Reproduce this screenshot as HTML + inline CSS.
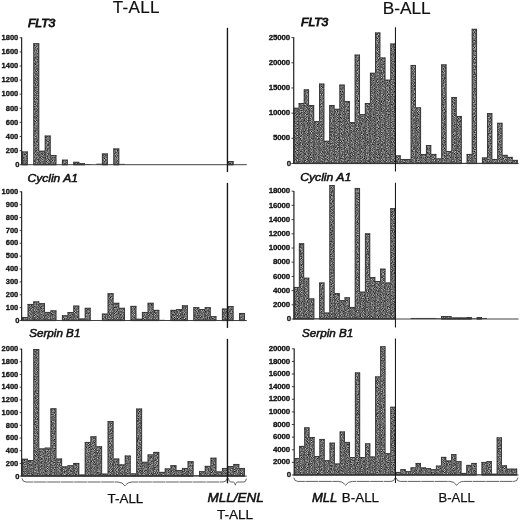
<!DOCTYPE html>
<html><head><meta charset="utf-8"><title>Figure</title>
<style>
html,body{margin:0;padding:0;background:#fff;}
body{width:520px;height:520px;overflow:hidden;font-family:"Liberation Sans",sans-serif;}
svg text{font-family:"Liberation Sans",sans-serif;fill:#111;}
.tk{font-size:7.5px;font-weight:bold;stroke:#111;stroke-width:0.3px;}
.ti{font-size:10.6px;font-style:italic;stroke:#111;stroke-width:0.5px;}
.gl{font-size:13px;stroke:#111;stroke-width:0.25px;}
.bi{font-style:italic;stroke-width:0.55px;}
.ct{font-size:17px;letter-spacing:0.3px;stroke:#111;stroke-width:0.2px;}
.ct2{font-size:17.3px;stroke:#111;stroke-width:0.2px;}
</style></head><body>
<svg width="520" height="520" viewBox="0 0 520 520" style="display:block;will-change:transform">
<defs><filter id="nz" x="0" y="0" width="520" height="520" filterUnits="userSpaceOnUse" color-interpolation-filters="sRGB">
<feTurbulence type="fractalNoise" baseFrequency="2.3" numOctaves="1" seed="5" result="t"/>
<feColorMatrix in="t" type="matrix" values="0.4 0 0 0 0.225  0.4 0 0 0 0.225  0.4 0 0 0 0.225  0 0 0 0 1" result="g"/>
<feConvolveMatrix in="g" order="3" kernelMatrix="0 -0.5 0 -0.5 3 -0.5 0 -0.5 0" divisor="1" bias="0" edgeMode="duplicate" preserveAlpha="true" result="h"/>
<feComposite in="h" in2="SourceGraphic" operator="in"/>
</filter></defs>
<rect width="520" height="520" fill="#fff"/>
<g filter="url(#nz)">
<rect x="22.00" y="151.59" width="5.71" height="13.11"/>
<rect x="33.43" y="43.30" width="5.71" height="121.40"/>
<rect x="39.14" y="150.81" width="5.71" height="13.89"/>
<rect x="44.86" y="135.65" width="5.71" height="29.05"/>
<rect x="50.58" y="155.04" width="5.71" height="9.66"/>
<rect x="62.00" y="159.76" width="5.71" height="4.93"/>
<rect x="73.44" y="161.88" width="5.71" height="2.82"/>
<rect x="79.15" y="163.29" width="5.71" height="1.41"/>
<rect x="102.01" y="153.56" width="5.71" height="11.14"/>
<rect x="113.44" y="148.56" width="5.71" height="16.14"/>
<rect x="227.74" y="161.17" width="5.71" height="3.52"/>
<rect x="22.00" y="317.03" width="5.71" height="3.47"/>
<rect x="27.71" y="304.03" width="5.71" height="16.47"/>
<rect x="33.43" y="301.45" width="5.71" height="19.05"/>
<rect x="39.14" y="303.25" width="5.71" height="17.25"/>
<rect x="44.86" y="312.01" width="5.71" height="8.49"/>
<rect x="50.58" y="310.46" width="5.71" height="10.04"/>
<rect x="62.00" y="315.35" width="5.71" height="5.15"/>
<rect x="67.72" y="312.13" width="5.71" height="8.37"/>
<rect x="73.44" y="305.70" width="5.71" height="14.80"/>
<rect x="79.15" y="318.57" width="5.71" height="1.93"/>
<rect x="84.86" y="307.89" width="5.71" height="12.61"/>
<rect x="102.01" y="313.68" width="5.71" height="6.82"/>
<rect x="107.72" y="293.34" width="5.71" height="27.16"/>
<rect x="113.44" y="302.87" width="5.71" height="17.63"/>
<rect x="119.16" y="307.89" width="5.71" height="12.61"/>
<rect x="130.58" y="305.96" width="5.71" height="14.54"/>
<rect x="136.30" y="318.83" width="5.71" height="1.67"/>
<rect x="142.01" y="312.01" width="5.71" height="8.49"/>
<rect x="147.73" y="302.87" width="5.71" height="17.63"/>
<rect x="153.44" y="309.95" width="5.71" height="10.55"/>
<rect x="170.59" y="309.95" width="5.71" height="10.55"/>
<rect x="176.31" y="309.17" width="5.71" height="11.33"/>
<rect x="182.02" y="305.44" width="5.71" height="15.06"/>
<rect x="193.45" y="307.24" width="5.71" height="13.26"/>
<rect x="199.16" y="309.17" width="5.71" height="11.33"/>
<rect x="204.88" y="307.24" width="5.71" height="13.26"/>
<rect x="210.59" y="316.25" width="5.71" height="4.25"/>
<rect x="222.03" y="308.66" width="5.71" height="11.84"/>
<rect x="227.74" y="306.21" width="5.71" height="14.29"/>
<rect x="239.17" y="313.04" width="5.71" height="7.46"/>
<rect x="22.00" y="458.83" width="5.71" height="17.27"/>
<rect x="27.71" y="460.10" width="5.71" height="16.00"/>
<rect x="33.43" y="349.10" width="5.71" height="127.00"/>
<rect x="39.14" y="448.48" width="5.71" height="27.62"/>
<rect x="44.86" y="447.72" width="5.71" height="28.38"/>
<rect x="50.58" y="408.41" width="5.71" height="67.69"/>
<rect x="56.29" y="458.64" width="5.71" height="17.46"/>
<rect x="62.00" y="466.45" width="5.71" height="9.65"/>
<rect x="67.72" y="465.31" width="5.71" height="10.79"/>
<rect x="73.44" y="463.02" width="5.71" height="13.08"/>
<rect x="79.15" y="474.58" width="5.71" height="1.52"/>
<rect x="84.86" y="442.00" width="5.71" height="34.10"/>
<rect x="90.58" y="436.41" width="5.71" height="39.69"/>
<rect x="96.30" y="446.38" width="5.71" height="29.72"/>
<rect x="102.01" y="473.69" width="5.71" height="2.41"/>
<rect x="107.72" y="421.17" width="5.71" height="54.93"/>
<rect x="113.44" y="458.64" width="5.71" height="17.46"/>
<rect x="119.16" y="464.48" width="5.71" height="11.62"/>
<rect x="124.87" y="455.65" width="5.71" height="20.45"/>
<rect x="130.58" y="473.43" width="5.71" height="2.67"/>
<rect x="136.30" y="408.66" width="5.71" height="67.44"/>
<rect x="142.01" y="461.88" width="5.71" height="14.22"/>
<rect x="147.73" y="454.51" width="5.71" height="21.59"/>
<rect x="153.44" y="451.97" width="5.71" height="24.13"/>
<rect x="159.16" y="471.97" width="5.71" height="4.13"/>
<rect x="164.88" y="468.48" width="5.71" height="7.62"/>
<rect x="170.59" y="465.31" width="5.71" height="10.79"/>
<rect x="176.31" y="470.07" width="5.71" height="6.03"/>
<rect x="182.02" y="468.04" width="5.71" height="8.06"/>
<rect x="187.73" y="461.30" width="5.71" height="14.80"/>
<rect x="199.16" y="471.27" width="5.71" height="4.83"/>
<rect x="204.88" y="465.94" width="5.71" height="10.16"/>
<rect x="210.59" y="457.81" width="5.71" height="18.29"/>
<rect x="216.31" y="471.53" width="5.71" height="4.57"/>
<rect x="222.03" y="468.04" width="5.71" height="8.06"/>
<rect x="227.74" y="466.13" width="5.71" height="9.97"/>
<rect x="233.45" y="464.04" width="5.71" height="12.06"/>
<rect x="239.17" y="468.04" width="5.71" height="8.06"/>
<rect x="293.70" y="107.85" width="5.09" height="55.65"/>
<rect x="298.79" y="103.07" width="5.09" height="60.43"/>
<rect x="303.88" y="89.47" width="5.09" height="74.03"/>
<rect x="308.97" y="105.08" width="5.09" height="58.42"/>
<rect x="314.06" y="121.20" width="5.09" height="42.30"/>
<rect x="319.15" y="83.68" width="5.09" height="79.82"/>
<rect x="324.24" y="140.84" width="5.09" height="22.66"/>
<rect x="329.33" y="105.08" width="5.09" height="58.42"/>
<rect x="334.42" y="108.86" width="5.09" height="54.64"/>
<rect x="339.51" y="84.69" width="5.09" height="78.81"/>
<rect x="344.60" y="101.05" width="5.09" height="62.45"/>
<rect x="349.69" y="122.20" width="5.09" height="41.30"/>
<rect x="354.78" y="54.72" width="5.09" height="108.78"/>
<rect x="359.87" y="114.25" width="5.09" height="49.25"/>
<rect x="364.96" y="103.07" width="5.09" height="60.43"/>
<rect x="370.05" y="72.85" width="5.09" height="90.65"/>
<rect x="375.14" y="32.56" width="5.09" height="130.94"/>
<rect x="380.23" y="57.59" width="5.09" height="105.91"/>
<rect x="385.32" y="79.75" width="5.09" height="83.75"/>
<rect x="390.41" y="43.64" width="5.09" height="119.86"/>
<rect x="395.50" y="155.49" width="5.09" height="8.01"/>
<rect x="400.59" y="159.07" width="5.09" height="4.43"/>
<rect x="405.68" y="159.07" width="5.09" height="4.43"/>
<rect x="410.77" y="65.05" width="5.09" height="98.45"/>
<rect x="415.86" y="107.45" width="5.09" height="56.05"/>
<rect x="420.95" y="154.03" width="5.09" height="9.47"/>
<rect x="426.04" y="145.12" width="5.09" height="18.38"/>
<rect x="431.13" y="154.03" width="5.09" height="9.47"/>
<rect x="436.22" y="158.46" width="5.09" height="5.04"/>
<rect x="441.31" y="64.49" width="5.09" height="99.01"/>
<rect x="446.40" y="151.06" width="5.09" height="12.44"/>
<rect x="451.49" y="97.08" width="5.09" height="66.42"/>
<rect x="456.58" y="116.06" width="5.09" height="47.44"/>
<rect x="466.76" y="154.03" width="5.09" height="9.47"/>
<rect x="471.85" y="28.89" width="5.09" height="134.61"/>
<rect x="482.03" y="157.56" width="5.09" height="5.94"/>
<rect x="487.12" y="113.14" width="5.09" height="50.36"/>
<rect x="492.21" y="159.07" width="5.09" height="4.43"/>
<rect x="497.30" y="122.88" width="5.09" height="40.62"/>
<rect x="502.39" y="154.94" width="5.09" height="8.56"/>
<rect x="507.48" y="156.95" width="5.09" height="6.55"/>
<rect x="512.57" y="159.97" width="5.09" height="3.53"/>
<rect x="293.90" y="287.05" width="5.08" height="31.95"/>
<rect x="298.98" y="243.38" width="5.08" height="75.62"/>
<rect x="304.06" y="277.82" width="5.08" height="41.18"/>
<rect x="309.14" y="298.55" width="5.08" height="20.45"/>
<rect x="319.30" y="282.58" width="5.08" height="36.42"/>
<rect x="324.38" y="312.61" width="5.08" height="6.39"/>
<rect x="329.46" y="185.16" width="5.08" height="133.84"/>
<rect x="334.54" y="293.23" width="5.08" height="25.77"/>
<rect x="339.62" y="300.19" width="5.08" height="18.82"/>
<rect x="344.70" y="297.35" width="5.08" height="21.66"/>
<rect x="349.78" y="307.00" width="5.08" height="12.00"/>
<rect x="354.86" y="188.00" width="5.08" height="131.00"/>
<rect x="359.94" y="291.74" width="5.08" height="27.26"/>
<rect x="365.02" y="233.44" width="5.08" height="85.56"/>
<rect x="370.10" y="277.11" width="5.08" height="41.89"/>
<rect x="375.18" y="281.09" width="5.08" height="37.91"/>
<rect x="380.26" y="268.73" width="5.08" height="50.27"/>
<rect x="385.34" y="282.58" width="5.08" height="36.42"/>
<rect x="390.42" y="208.24" width="5.08" height="110.76"/>
<rect x="441.22" y="316.16" width="5.08" height="2.84"/>
<rect x="446.30" y="316.16" width="5.08" height="2.84"/>
<rect x="451.38" y="317.58" width="5.08" height="1.42"/>
<rect x="456.46" y="317.58" width="5.08" height="1.42"/>
<rect x="461.54" y="317.58" width="5.08" height="1.42"/>
<rect x="466.62" y="317.23" width="5.08" height="1.78"/>
<rect x="476.78" y="317.23" width="5.08" height="1.78"/>
<rect x="294.20" y="458.09" width="5.07" height="16.91"/>
<rect x="299.26" y="445.97" width="5.07" height="29.03"/>
<rect x="304.33" y="427.42" width="5.07" height="47.58"/>
<rect x="309.39" y="437.08" width="5.07" height="37.92"/>
<rect x="314.46" y="456.13" width="5.07" height="18.87"/>
<rect x="319.52" y="439.03" width="5.07" height="35.97"/>
<rect x="324.59" y="460.30" width="5.07" height="14.70"/>
<rect x="329.65" y="442.76" width="5.07" height="32.24"/>
<rect x="334.72" y="463.58" width="5.07" height="11.42"/>
<rect x="339.78" y="431.59" width="5.07" height="43.41"/>
<rect x="344.85" y="442.00" width="5.07" height="33.00"/>
<rect x="349.91" y="457.14" width="5.07" height="17.86"/>
<rect x="354.98" y="372.53" width="5.07" height="102.47"/>
<rect x="360.04" y="457.14" width="5.07" height="17.86"/>
<rect x="365.11" y="443.45" width="5.07" height="31.55"/>
<rect x="370.18" y="456.57" width="5.07" height="18.43"/>
<rect x="375.24" y="376.50" width="5.07" height="98.50"/>
<rect x="380.31" y="346.34" width="5.07" height="128.66"/>
<rect x="385.37" y="453.29" width="5.07" height="21.71"/>
<rect x="390.44" y="406.85" width="5.07" height="68.15"/>
<rect x="395.50" y="472.00" width="5.07" height="3.00"/>
<rect x="400.56" y="469.26" width="5.07" height="5.74"/>
<rect x="405.63" y="471.25" width="5.07" height="3.75"/>
<rect x="410.69" y="467.49" width="5.07" height="7.51"/>
<rect x="415.76" y="463.01" width="5.07" height="11.99"/>
<rect x="420.82" y="467.49" width="5.07" height="7.51"/>
<rect x="425.89" y="468.25" width="5.07" height="6.75"/>
<rect x="430.96" y="469.26" width="5.07" height="5.74"/>
<rect x="436.02" y="465.72" width="5.07" height="9.28"/>
<rect x="441.09" y="456.95" width="5.07" height="18.05"/>
<rect x="446.15" y="460.49" width="5.07" height="14.51"/>
<rect x="451.22" y="454.24" width="5.07" height="20.76"/>
<rect x="456.28" y="461.24" width="5.07" height="13.76"/>
<rect x="461.35" y="472.98" width="5.07" height="2.02"/>
<rect x="466.41" y="464.97" width="5.07" height="10.03"/>
<rect x="471.48" y="463.01" width="5.07" height="11.99"/>
<rect x="481.61" y="462.00" width="5.07" height="13.00"/>
<rect x="486.67" y="461.24" width="5.07" height="13.76"/>
<rect x="491.74" y="473.74" width="5.07" height="1.26"/>
<rect x="496.80" y="437.46" width="5.07" height="37.54"/>
<rect x="501.87" y="465.47" width="5.07" height="9.53"/>
<rect x="506.93" y="468.75" width="5.07" height="6.25"/>
<rect x="512.00" y="468.75" width="5.07" height="6.25"/>
</g>
<line x1="22.00" y1="164.60" x2="27.71" y2="164.60" stroke="#2a2a2a" stroke-width="1.4"/>
<line x1="22.00" y1="151.99" x2="27.71" y2="151.99" stroke="#333" stroke-width="0.9"/>
<line x1="33.43" y1="164.60" x2="39.14" y2="164.60" stroke="#2a2a2a" stroke-width="1.4"/>
<line x1="33.43" y1="43.70" x2="39.14" y2="43.70" stroke="#333" stroke-width="0.9"/>
<line x1="39.14" y1="164.60" x2="44.86" y2="164.60" stroke="#2a2a2a" stroke-width="1.4"/>
<line x1="39.14" y1="151.21" x2="44.86" y2="151.21" stroke="#333" stroke-width="0.9"/>
<line x1="44.86" y1="164.60" x2="50.58" y2="164.60" stroke="#2a2a2a" stroke-width="1.4"/>
<line x1="44.86" y1="136.05" x2="50.58" y2="136.05" stroke="#333" stroke-width="0.9"/>
<line x1="50.58" y1="164.60" x2="56.29" y2="164.60" stroke="#2a2a2a" stroke-width="1.4"/>
<line x1="50.58" y1="155.44" x2="56.29" y2="155.44" stroke="#333" stroke-width="0.9"/>
<line x1="62.00" y1="164.60" x2="67.72" y2="164.60" stroke="#2a2a2a" stroke-width="1.4"/>
<line x1="62.00" y1="160.16" x2="67.72" y2="160.16" stroke="#333" stroke-width="0.9"/>
<line x1="73.44" y1="164.60" x2="79.15" y2="164.60" stroke="#2a2a2a" stroke-width="1.4"/>
<line x1="73.44" y1="162.28" x2="79.15" y2="162.28" stroke="#333" stroke-width="0.9"/>
<line x1="79.15" y1="164.60" x2="84.87" y2="164.60" stroke="#2a2a2a" stroke-width="1.4"/>
<line x1="79.15" y1="163.69" x2="84.87" y2="163.69" stroke="#333" stroke-width="0.9"/>
<rect x="84.86" y="164.00" width="5.71" height="0.70" fill="#4a4a4a"/>
<rect x="96.30" y="163.64" width="5.71" height="1.06" fill="#4a4a4a"/>
<line x1="102.01" y1="164.60" x2="107.72" y2="164.60" stroke="#2a2a2a" stroke-width="1.4"/>
<line x1="102.01" y1="153.96" x2="107.72" y2="153.96" stroke="#333" stroke-width="0.9"/>
<line x1="113.44" y1="164.60" x2="119.16" y2="164.60" stroke="#2a2a2a" stroke-width="1.4"/>
<line x1="113.44" y1="148.96" x2="119.16" y2="148.96" stroke="#333" stroke-width="0.9"/>
<rect x="119.16" y="163.85" width="5.71" height="0.85" fill="#4a4a4a"/>
<line x1="227.74" y1="164.60" x2="233.46" y2="164.60" stroke="#2a2a2a" stroke-width="1.4"/>
<line x1="227.74" y1="161.57" x2="233.46" y2="161.57" stroke="#333" stroke-width="0.9"/>
<line x1="22.35" y1="151.59" x2="22.35" y2="164.70" stroke="#333" stroke-width="0.9"/>
<line x1="27.36" y1="151.59" x2="27.36" y2="164.70" stroke="#333" stroke-width="0.9"/>
<line x1="33.78" y1="43.30" x2="33.78" y2="164.70" stroke="#333" stroke-width="0.9"/>
<line x1="38.79" y1="43.30" x2="38.79" y2="150.81" stroke="#333" stroke-width="0.9"/>
<line x1="39.14" y1="150.81" x2="39.14" y2="164.70" stroke="#333" stroke-width="0.9" stroke-opacity="0.8"/>
<line x1="45.21" y1="135.65" x2="45.21" y2="150.81" stroke="#333" stroke-width="0.9"/>
<line x1="44.86" y1="150.81" x2="44.86" y2="164.70" stroke="#333" stroke-width="0.9" stroke-opacity="0.8"/>
<line x1="50.23" y1="135.65" x2="50.23" y2="155.04" stroke="#333" stroke-width="0.9"/>
<line x1="50.58" y1="155.04" x2="50.58" y2="164.70" stroke="#333" stroke-width="0.9" stroke-opacity="0.8"/>
<line x1="55.94" y1="155.04" x2="55.94" y2="164.70" stroke="#333" stroke-width="0.9"/>
<line x1="62.35" y1="159.76" x2="62.35" y2="164.70" stroke="#333" stroke-width="0.9"/>
<line x1="67.37" y1="159.76" x2="67.37" y2="164.70" stroke="#333" stroke-width="0.9"/>
<line x1="73.78" y1="161.88" x2="73.78" y2="164.70" stroke="#333" stroke-width="0.9"/>
<line x1="78.80" y1="161.88" x2="78.80" y2="163.29" stroke="#333" stroke-width="0.9"/>
<line x1="79.15" y1="163.29" x2="79.15" y2="164.70" stroke="#333" stroke-width="0.9" stroke-opacity="0.8"/>
<line x1="84.52" y1="163.29" x2="84.52" y2="164.70" stroke="#333" stroke-width="0.9"/>
<line x1="102.36" y1="153.56" x2="102.36" y2="164.70" stroke="#333" stroke-width="0.9"/>
<line x1="107.38" y1="153.56" x2="107.38" y2="164.70" stroke="#333" stroke-width="0.9"/>
<line x1="113.79" y1="148.56" x2="113.79" y2="164.70" stroke="#333" stroke-width="0.9"/>
<line x1="118.81" y1="148.56" x2="118.81" y2="164.70" stroke="#333" stroke-width="0.9"/>
<line x1="228.09" y1="161.17" x2="228.09" y2="164.70" stroke="#333" stroke-width="0.9"/>
<line x1="233.10" y1="161.17" x2="233.10" y2="164.70" stroke="#333" stroke-width="0.9"/>
<line x1="22.00" y1="320.40" x2="27.71" y2="320.40" stroke="#2a2a2a" stroke-width="1.4"/>
<line x1="22.00" y1="317.43" x2="27.71" y2="317.43" stroke="#333" stroke-width="0.9"/>
<line x1="27.71" y1="320.40" x2="33.43" y2="320.40" stroke="#2a2a2a" stroke-width="1.4"/>
<line x1="27.71" y1="304.43" x2="33.43" y2="304.43" stroke="#333" stroke-width="0.9"/>
<line x1="33.43" y1="320.40" x2="39.14" y2="320.40" stroke="#2a2a2a" stroke-width="1.4"/>
<line x1="33.43" y1="301.85" x2="39.14" y2="301.85" stroke="#333" stroke-width="0.9"/>
<line x1="39.14" y1="320.40" x2="44.86" y2="320.40" stroke="#2a2a2a" stroke-width="1.4"/>
<line x1="39.14" y1="303.65" x2="44.86" y2="303.65" stroke="#333" stroke-width="0.9"/>
<line x1="44.86" y1="320.40" x2="50.58" y2="320.40" stroke="#2a2a2a" stroke-width="1.4"/>
<line x1="44.86" y1="312.41" x2="50.58" y2="312.41" stroke="#333" stroke-width="0.9"/>
<line x1="50.58" y1="320.40" x2="56.29" y2="320.40" stroke="#2a2a2a" stroke-width="1.4"/>
<line x1="50.58" y1="310.86" x2="56.29" y2="310.86" stroke="#333" stroke-width="0.9"/>
<line x1="62.00" y1="320.40" x2="67.72" y2="320.40" stroke="#2a2a2a" stroke-width="1.4"/>
<line x1="62.00" y1="315.75" x2="67.72" y2="315.75" stroke="#333" stroke-width="0.9"/>
<line x1="67.72" y1="320.40" x2="73.44" y2="320.40" stroke="#2a2a2a" stroke-width="1.4"/>
<line x1="67.72" y1="312.53" x2="73.44" y2="312.53" stroke="#333" stroke-width="0.9"/>
<line x1="73.44" y1="320.40" x2="79.15" y2="320.40" stroke="#2a2a2a" stroke-width="1.4"/>
<line x1="73.44" y1="306.10" x2="79.15" y2="306.10" stroke="#333" stroke-width="0.9"/>
<line x1="79.15" y1="320.40" x2="84.87" y2="320.40" stroke="#2a2a2a" stroke-width="1.4"/>
<line x1="79.15" y1="318.97" x2="84.87" y2="318.97" stroke="#333" stroke-width="0.9"/>
<line x1="84.86" y1="320.40" x2="90.58" y2="320.40" stroke="#2a2a2a" stroke-width="1.4"/>
<line x1="84.86" y1="308.29" x2="90.58" y2="308.29" stroke="#333" stroke-width="0.9"/>
<line x1="102.01" y1="320.40" x2="107.72" y2="320.40" stroke="#2a2a2a" stroke-width="1.4"/>
<line x1="102.01" y1="314.08" x2="107.72" y2="314.08" stroke="#333" stroke-width="0.9"/>
<line x1="107.72" y1="320.40" x2="113.44" y2="320.40" stroke="#2a2a2a" stroke-width="1.4"/>
<line x1="107.72" y1="293.74" x2="113.44" y2="293.74" stroke="#333" stroke-width="0.9"/>
<line x1="113.44" y1="320.40" x2="119.16" y2="320.40" stroke="#2a2a2a" stroke-width="1.4"/>
<line x1="113.44" y1="303.27" x2="119.16" y2="303.27" stroke="#333" stroke-width="0.9"/>
<line x1="119.16" y1="320.40" x2="124.87" y2="320.40" stroke="#2a2a2a" stroke-width="1.4"/>
<line x1="119.16" y1="308.29" x2="124.87" y2="308.29" stroke="#333" stroke-width="0.9"/>
<line x1="130.58" y1="320.40" x2="136.30" y2="320.40" stroke="#2a2a2a" stroke-width="1.4"/>
<line x1="130.58" y1="306.36" x2="136.30" y2="306.36" stroke="#333" stroke-width="0.9"/>
<line x1="136.30" y1="320.40" x2="142.02" y2="320.40" stroke="#2a2a2a" stroke-width="1.4"/>
<line x1="136.30" y1="319.23" x2="142.02" y2="319.23" stroke="#333" stroke-width="0.9"/>
<line x1="142.01" y1="320.40" x2="147.73" y2="320.40" stroke="#2a2a2a" stroke-width="1.4"/>
<line x1="142.01" y1="312.41" x2="147.73" y2="312.41" stroke="#333" stroke-width="0.9"/>
<line x1="147.73" y1="320.40" x2="153.44" y2="320.40" stroke="#2a2a2a" stroke-width="1.4"/>
<line x1="147.73" y1="303.27" x2="153.44" y2="303.27" stroke="#333" stroke-width="0.9"/>
<line x1="153.44" y1="320.40" x2="159.16" y2="320.40" stroke="#2a2a2a" stroke-width="1.4"/>
<line x1="153.44" y1="310.35" x2="159.16" y2="310.35" stroke="#333" stroke-width="0.9"/>
<rect x="159.16" y="319.80" width="5.71" height="0.70" fill="#4a4a4a"/>
<line x1="170.59" y1="320.40" x2="176.31" y2="320.40" stroke="#2a2a2a" stroke-width="1.4"/>
<line x1="170.59" y1="310.35" x2="176.31" y2="310.35" stroke="#333" stroke-width="0.9"/>
<line x1="176.31" y1="320.40" x2="182.02" y2="320.40" stroke="#2a2a2a" stroke-width="1.4"/>
<line x1="176.31" y1="309.57" x2="182.02" y2="309.57" stroke="#333" stroke-width="0.9"/>
<line x1="182.02" y1="320.40" x2="187.73" y2="320.40" stroke="#2a2a2a" stroke-width="1.4"/>
<line x1="182.02" y1="305.84" x2="187.73" y2="305.84" stroke="#333" stroke-width="0.9"/>
<line x1="193.45" y1="320.40" x2="199.16" y2="320.40" stroke="#2a2a2a" stroke-width="1.4"/>
<line x1="193.45" y1="307.64" x2="199.16" y2="307.64" stroke="#333" stroke-width="0.9"/>
<line x1="199.16" y1="320.40" x2="204.88" y2="320.40" stroke="#2a2a2a" stroke-width="1.4"/>
<line x1="199.16" y1="309.57" x2="204.88" y2="309.57" stroke="#333" stroke-width="0.9"/>
<line x1="204.88" y1="320.40" x2="210.59" y2="320.40" stroke="#2a2a2a" stroke-width="1.4"/>
<line x1="204.88" y1="307.64" x2="210.59" y2="307.64" stroke="#333" stroke-width="0.9"/>
<line x1="210.59" y1="320.40" x2="216.31" y2="320.40" stroke="#2a2a2a" stroke-width="1.4"/>
<line x1="210.59" y1="316.65" x2="216.31" y2="316.65" stroke="#333" stroke-width="0.9"/>
<line x1="222.03" y1="320.40" x2="227.74" y2="320.40" stroke="#2a2a2a" stroke-width="1.4"/>
<line x1="222.03" y1="309.06" x2="227.74" y2="309.06" stroke="#333" stroke-width="0.9"/>
<line x1="227.74" y1="320.40" x2="233.46" y2="320.40" stroke="#2a2a2a" stroke-width="1.4"/>
<line x1="227.74" y1="306.61" x2="233.46" y2="306.61" stroke="#333" stroke-width="0.9"/>
<line x1="239.17" y1="320.40" x2="244.88" y2="320.40" stroke="#2a2a2a" stroke-width="1.4"/>
<line x1="239.17" y1="313.44" x2="244.88" y2="313.44" stroke="#333" stroke-width="0.9"/>
<line x1="22.35" y1="317.03" x2="22.35" y2="320.50" stroke="#333" stroke-width="0.9"/>
<line x1="28.07" y1="304.03" x2="28.07" y2="317.03" stroke="#333" stroke-width="0.9"/>
<line x1="27.71" y1="317.03" x2="27.71" y2="320.50" stroke="#333" stroke-width="0.9" stroke-opacity="0.8"/>
<line x1="33.78" y1="301.45" x2="33.78" y2="304.03" stroke="#333" stroke-width="0.9"/>
<line x1="33.43" y1="304.03" x2="33.43" y2="320.50" stroke="#333" stroke-width="0.9" stroke-opacity="0.8"/>
<line x1="38.79" y1="301.45" x2="38.79" y2="303.25" stroke="#333" stroke-width="0.9"/>
<line x1="39.14" y1="303.25" x2="39.14" y2="320.50" stroke="#333" stroke-width="0.9" stroke-opacity="0.8"/>
<line x1="44.51" y1="303.25" x2="44.51" y2="312.01" stroke="#333" stroke-width="0.9"/>
<line x1="44.86" y1="312.01" x2="44.86" y2="320.50" stroke="#333" stroke-width="0.9" stroke-opacity="0.8"/>
<line x1="50.93" y1="310.46" x2="50.93" y2="312.01" stroke="#333" stroke-width="0.9"/>
<line x1="50.58" y1="312.01" x2="50.58" y2="320.50" stroke="#333" stroke-width="0.9" stroke-opacity="0.8"/>
<line x1="55.94" y1="310.46" x2="55.94" y2="320.50" stroke="#333" stroke-width="0.9"/>
<line x1="62.35" y1="315.35" x2="62.35" y2="320.50" stroke="#333" stroke-width="0.9"/>
<line x1="68.07" y1="312.13" x2="68.07" y2="315.35" stroke="#333" stroke-width="0.9"/>
<line x1="67.72" y1="315.35" x2="67.72" y2="320.50" stroke="#333" stroke-width="0.9" stroke-opacity="0.8"/>
<line x1="73.78" y1="305.70" x2="73.78" y2="312.13" stroke="#333" stroke-width="0.9"/>
<line x1="73.44" y1="312.13" x2="73.44" y2="320.50" stroke="#333" stroke-width="0.9" stroke-opacity="0.8"/>
<line x1="78.80" y1="305.70" x2="78.80" y2="318.57" stroke="#333" stroke-width="0.9"/>
<line x1="79.15" y1="318.57" x2="79.15" y2="320.50" stroke="#333" stroke-width="0.9" stroke-opacity="0.8"/>
<line x1="85.21" y1="307.89" x2="85.21" y2="318.57" stroke="#333" stroke-width="0.9"/>
<line x1="84.86" y1="318.57" x2="84.86" y2="320.50" stroke="#333" stroke-width="0.9" stroke-opacity="0.8"/>
<line x1="90.23" y1="307.89" x2="90.23" y2="320.50" stroke="#333" stroke-width="0.9"/>
<line x1="102.36" y1="313.68" x2="102.36" y2="320.50" stroke="#333" stroke-width="0.9"/>
<line x1="108.07" y1="293.34" x2="108.07" y2="313.68" stroke="#333" stroke-width="0.9"/>
<line x1="107.72" y1="313.68" x2="107.72" y2="320.50" stroke="#333" stroke-width="0.9" stroke-opacity="0.8"/>
<line x1="113.09" y1="293.34" x2="113.09" y2="302.87" stroke="#333" stroke-width="0.9"/>
<line x1="113.44" y1="302.87" x2="113.44" y2="320.50" stroke="#333" stroke-width="0.9" stroke-opacity="0.8"/>
<line x1="118.81" y1="302.87" x2="118.81" y2="307.89" stroke="#333" stroke-width="0.9"/>
<line x1="119.16" y1="307.89" x2="119.16" y2="320.50" stroke="#333" stroke-width="0.9" stroke-opacity="0.8"/>
<line x1="124.52" y1="307.89" x2="124.52" y2="320.50" stroke="#333" stroke-width="0.9"/>
<line x1="130.93" y1="305.96" x2="130.93" y2="320.50" stroke="#333" stroke-width="0.9"/>
<line x1="135.95" y1="305.96" x2="135.95" y2="318.83" stroke="#333" stroke-width="0.9"/>
<line x1="136.30" y1="318.83" x2="136.30" y2="320.50" stroke="#333" stroke-width="0.9" stroke-opacity="0.8"/>
<line x1="142.36" y1="312.01" x2="142.36" y2="318.83" stroke="#333" stroke-width="0.9"/>
<line x1="142.01" y1="318.83" x2="142.01" y2="320.50" stroke="#333" stroke-width="0.9" stroke-opacity="0.8"/>
<line x1="148.08" y1="302.87" x2="148.08" y2="312.01" stroke="#333" stroke-width="0.9"/>
<line x1="147.73" y1="312.01" x2="147.73" y2="320.50" stroke="#333" stroke-width="0.9" stroke-opacity="0.8"/>
<line x1="153.09" y1="302.87" x2="153.09" y2="309.95" stroke="#333" stroke-width="0.9"/>
<line x1="153.44" y1="309.95" x2="153.44" y2="320.50" stroke="#333" stroke-width="0.9" stroke-opacity="0.8"/>
<line x1="158.81" y1="309.95" x2="158.81" y2="320.50" stroke="#333" stroke-width="0.9"/>
<line x1="170.94" y1="309.95" x2="170.94" y2="320.50" stroke="#333" stroke-width="0.9"/>
<line x1="176.66" y1="309.17" x2="176.66" y2="309.95" stroke="#333" stroke-width="0.9"/>
<line x1="176.31" y1="309.95" x2="176.31" y2="320.50" stroke="#333" stroke-width="0.9" stroke-opacity="0.8"/>
<line x1="182.37" y1="305.44" x2="182.37" y2="309.17" stroke="#333" stroke-width="0.9"/>
<line x1="182.02" y1="309.17" x2="182.02" y2="320.50" stroke="#333" stroke-width="0.9" stroke-opacity="0.8"/>
<line x1="187.38" y1="305.44" x2="187.38" y2="320.50" stroke="#333" stroke-width="0.9"/>
<line x1="193.80" y1="307.24" x2="193.80" y2="320.50" stroke="#333" stroke-width="0.9"/>
<line x1="198.81" y1="307.24" x2="198.81" y2="309.17" stroke="#333" stroke-width="0.9"/>
<line x1="199.16" y1="309.17" x2="199.16" y2="320.50" stroke="#333" stroke-width="0.9" stroke-opacity="0.8"/>
<line x1="205.23" y1="307.24" x2="205.23" y2="309.17" stroke="#333" stroke-width="0.9"/>
<line x1="204.88" y1="309.17" x2="204.88" y2="320.50" stroke="#333" stroke-width="0.9" stroke-opacity="0.8"/>
<line x1="210.25" y1="307.24" x2="210.25" y2="316.25" stroke="#333" stroke-width="0.9"/>
<line x1="210.59" y1="316.25" x2="210.59" y2="320.50" stroke="#333" stroke-width="0.9" stroke-opacity="0.8"/>
<line x1="215.96" y1="316.25" x2="215.96" y2="320.50" stroke="#333" stroke-width="0.9"/>
<line x1="222.38" y1="308.66" x2="222.38" y2="320.50" stroke="#333" stroke-width="0.9"/>
<line x1="228.09" y1="306.21" x2="228.09" y2="308.66" stroke="#333" stroke-width="0.9"/>
<line x1="227.74" y1="308.66" x2="227.74" y2="320.50" stroke="#333" stroke-width="0.9" stroke-opacity="0.8"/>
<line x1="233.10" y1="306.21" x2="233.10" y2="320.50" stroke="#333" stroke-width="0.9"/>
<line x1="239.52" y1="313.04" x2="239.52" y2="320.50" stroke="#333" stroke-width="0.9"/>
<line x1="244.53" y1="313.04" x2="244.53" y2="320.50" stroke="#333" stroke-width="0.9"/>
<line x1="22.00" y1="476.00" x2="27.71" y2="476.00" stroke="#2a2a2a" stroke-width="1.4"/>
<line x1="22.00" y1="459.23" x2="27.71" y2="459.23" stroke="#333" stroke-width="0.9"/>
<line x1="27.71" y1="476.00" x2="33.43" y2="476.00" stroke="#2a2a2a" stroke-width="1.4"/>
<line x1="27.71" y1="460.50" x2="33.43" y2="460.50" stroke="#333" stroke-width="0.9"/>
<line x1="33.43" y1="476.00" x2="39.14" y2="476.00" stroke="#2a2a2a" stroke-width="1.4"/>
<line x1="33.43" y1="349.50" x2="39.14" y2="349.50" stroke="#333" stroke-width="0.9"/>
<line x1="39.14" y1="476.00" x2="44.86" y2="476.00" stroke="#2a2a2a" stroke-width="1.4"/>
<line x1="39.14" y1="448.88" x2="44.86" y2="448.88" stroke="#333" stroke-width="0.9"/>
<line x1="44.86" y1="476.00" x2="50.58" y2="476.00" stroke="#2a2a2a" stroke-width="1.4"/>
<line x1="44.86" y1="448.12" x2="50.58" y2="448.12" stroke="#333" stroke-width="0.9"/>
<line x1="50.58" y1="476.00" x2="56.29" y2="476.00" stroke="#2a2a2a" stroke-width="1.4"/>
<line x1="50.58" y1="408.81" x2="56.29" y2="408.81" stroke="#333" stroke-width="0.9"/>
<line x1="56.29" y1="476.00" x2="62.00" y2="476.00" stroke="#2a2a2a" stroke-width="1.4"/>
<line x1="56.29" y1="459.04" x2="62.00" y2="459.04" stroke="#333" stroke-width="0.9"/>
<line x1="62.00" y1="476.00" x2="67.72" y2="476.00" stroke="#2a2a2a" stroke-width="1.4"/>
<line x1="62.00" y1="466.85" x2="67.72" y2="466.85" stroke="#333" stroke-width="0.9"/>
<line x1="67.72" y1="476.00" x2="73.44" y2="476.00" stroke="#2a2a2a" stroke-width="1.4"/>
<line x1="67.72" y1="465.70" x2="73.44" y2="465.70" stroke="#333" stroke-width="0.9"/>
<line x1="73.44" y1="476.00" x2="79.15" y2="476.00" stroke="#2a2a2a" stroke-width="1.4"/>
<line x1="73.44" y1="463.42" x2="79.15" y2="463.42" stroke="#333" stroke-width="0.9"/>
<line x1="79.15" y1="476.00" x2="84.87" y2="476.00" stroke="#2a2a2a" stroke-width="1.4"/>
<line x1="79.15" y1="474.98" x2="84.87" y2="474.98" stroke="#333" stroke-width="0.9"/>
<line x1="84.86" y1="476.00" x2="90.58" y2="476.00" stroke="#2a2a2a" stroke-width="1.4"/>
<line x1="84.86" y1="442.40" x2="90.58" y2="442.40" stroke="#333" stroke-width="0.9"/>
<line x1="90.58" y1="476.00" x2="96.30" y2="476.00" stroke="#2a2a2a" stroke-width="1.4"/>
<line x1="90.58" y1="436.81" x2="96.30" y2="436.81" stroke="#333" stroke-width="0.9"/>
<line x1="96.30" y1="476.00" x2="102.01" y2="476.00" stroke="#2a2a2a" stroke-width="1.4"/>
<line x1="96.30" y1="446.78" x2="102.01" y2="446.78" stroke="#333" stroke-width="0.9"/>
<line x1="102.01" y1="476.00" x2="107.72" y2="476.00" stroke="#2a2a2a" stroke-width="1.4"/>
<line x1="102.01" y1="474.09" x2="107.72" y2="474.09" stroke="#333" stroke-width="0.9"/>
<line x1="107.72" y1="476.00" x2="113.44" y2="476.00" stroke="#2a2a2a" stroke-width="1.4"/>
<line x1="107.72" y1="421.57" x2="113.44" y2="421.57" stroke="#333" stroke-width="0.9"/>
<line x1="113.44" y1="476.00" x2="119.16" y2="476.00" stroke="#2a2a2a" stroke-width="1.4"/>
<line x1="113.44" y1="459.04" x2="119.16" y2="459.04" stroke="#333" stroke-width="0.9"/>
<line x1="119.16" y1="476.00" x2="124.87" y2="476.00" stroke="#2a2a2a" stroke-width="1.4"/>
<line x1="119.16" y1="464.88" x2="124.87" y2="464.88" stroke="#333" stroke-width="0.9"/>
<line x1="124.87" y1="476.00" x2="130.59" y2="476.00" stroke="#2a2a2a" stroke-width="1.4"/>
<line x1="124.87" y1="456.05" x2="130.59" y2="456.05" stroke="#333" stroke-width="0.9"/>
<line x1="130.58" y1="476.00" x2="136.30" y2="476.00" stroke="#2a2a2a" stroke-width="1.4"/>
<line x1="130.58" y1="473.83" x2="136.30" y2="473.83" stroke="#333" stroke-width="0.9"/>
<line x1="136.30" y1="476.00" x2="142.02" y2="476.00" stroke="#2a2a2a" stroke-width="1.4"/>
<line x1="136.30" y1="409.06" x2="142.02" y2="409.06" stroke="#333" stroke-width="0.9"/>
<line x1="142.01" y1="476.00" x2="147.73" y2="476.00" stroke="#2a2a2a" stroke-width="1.4"/>
<line x1="142.01" y1="462.28" x2="147.73" y2="462.28" stroke="#333" stroke-width="0.9"/>
<line x1="147.73" y1="476.00" x2="153.44" y2="476.00" stroke="#2a2a2a" stroke-width="1.4"/>
<line x1="147.73" y1="454.91" x2="153.44" y2="454.91" stroke="#333" stroke-width="0.9"/>
<line x1="153.44" y1="476.00" x2="159.16" y2="476.00" stroke="#2a2a2a" stroke-width="1.4"/>
<line x1="153.44" y1="452.37" x2="159.16" y2="452.37" stroke="#333" stroke-width="0.9"/>
<line x1="159.16" y1="476.00" x2="164.88" y2="476.00" stroke="#2a2a2a" stroke-width="1.4"/>
<line x1="159.16" y1="472.37" x2="164.88" y2="472.37" stroke="#333" stroke-width="0.9"/>
<line x1="164.88" y1="476.00" x2="170.59" y2="476.00" stroke="#2a2a2a" stroke-width="1.4"/>
<line x1="164.88" y1="468.88" x2="170.59" y2="468.88" stroke="#333" stroke-width="0.9"/>
<line x1="170.59" y1="476.00" x2="176.31" y2="476.00" stroke="#2a2a2a" stroke-width="1.4"/>
<line x1="170.59" y1="465.70" x2="176.31" y2="465.70" stroke="#333" stroke-width="0.9"/>
<line x1="176.31" y1="476.00" x2="182.02" y2="476.00" stroke="#2a2a2a" stroke-width="1.4"/>
<line x1="176.31" y1="470.47" x2="182.02" y2="470.47" stroke="#333" stroke-width="0.9"/>
<line x1="182.02" y1="476.00" x2="187.73" y2="476.00" stroke="#2a2a2a" stroke-width="1.4"/>
<line x1="182.02" y1="468.44" x2="187.73" y2="468.44" stroke="#333" stroke-width="0.9"/>
<line x1="187.73" y1="476.00" x2="193.45" y2="476.00" stroke="#2a2a2a" stroke-width="1.4"/>
<line x1="187.73" y1="461.70" x2="193.45" y2="461.70" stroke="#333" stroke-width="0.9"/>
<rect x="193.45" y="475.15" width="5.71" height="0.95" fill="#4a4a4a"/>
<line x1="199.16" y1="476.00" x2="204.88" y2="476.00" stroke="#2a2a2a" stroke-width="1.4"/>
<line x1="199.16" y1="471.67" x2="204.88" y2="471.67" stroke="#333" stroke-width="0.9"/>
<line x1="204.88" y1="476.00" x2="210.59" y2="476.00" stroke="#2a2a2a" stroke-width="1.4"/>
<line x1="204.88" y1="466.34" x2="210.59" y2="466.34" stroke="#333" stroke-width="0.9"/>
<line x1="210.59" y1="476.00" x2="216.31" y2="476.00" stroke="#2a2a2a" stroke-width="1.4"/>
<line x1="210.59" y1="458.21" x2="216.31" y2="458.21" stroke="#333" stroke-width="0.9"/>
<line x1="216.31" y1="476.00" x2="222.03" y2="476.00" stroke="#2a2a2a" stroke-width="1.4"/>
<line x1="216.31" y1="471.93" x2="222.03" y2="471.93" stroke="#333" stroke-width="0.9"/>
<line x1="222.03" y1="476.00" x2="227.74" y2="476.00" stroke="#2a2a2a" stroke-width="1.4"/>
<line x1="222.03" y1="468.44" x2="227.74" y2="468.44" stroke="#333" stroke-width="0.9"/>
<line x1="227.74" y1="476.00" x2="233.46" y2="476.00" stroke="#2a2a2a" stroke-width="1.4"/>
<line x1="227.74" y1="466.53" x2="233.46" y2="466.53" stroke="#333" stroke-width="0.9"/>
<line x1="233.45" y1="476.00" x2="239.17" y2="476.00" stroke="#2a2a2a" stroke-width="1.4"/>
<line x1="233.45" y1="464.44" x2="239.17" y2="464.44" stroke="#333" stroke-width="0.9"/>
<line x1="239.17" y1="476.00" x2="244.88" y2="476.00" stroke="#2a2a2a" stroke-width="1.4"/>
<line x1="239.17" y1="468.44" x2="244.88" y2="468.44" stroke="#333" stroke-width="0.9"/>
<line x1="22.35" y1="458.83" x2="22.35" y2="476.10" stroke="#333" stroke-width="0.9"/>
<line x1="27.36" y1="458.83" x2="27.36" y2="460.10" stroke="#333" stroke-width="0.9"/>
<line x1="27.71" y1="460.10" x2="27.71" y2="476.10" stroke="#333" stroke-width="0.9" stroke-opacity="0.8"/>
<line x1="33.78" y1="349.10" x2="33.78" y2="460.10" stroke="#333" stroke-width="0.9"/>
<line x1="33.43" y1="460.10" x2="33.43" y2="476.10" stroke="#333" stroke-width="0.9" stroke-opacity="0.8"/>
<line x1="38.79" y1="349.10" x2="38.79" y2="448.48" stroke="#333" stroke-width="0.9"/>
<line x1="39.14" y1="448.48" x2="39.14" y2="476.10" stroke="#333" stroke-width="0.9" stroke-opacity="0.8"/>
<line x1="45.21" y1="447.72" x2="45.21" y2="448.48" stroke="#333" stroke-width="0.9"/>
<line x1="44.86" y1="448.48" x2="44.86" y2="476.10" stroke="#333" stroke-width="0.9" stroke-opacity="0.8"/>
<line x1="50.93" y1="408.41" x2="50.93" y2="447.72" stroke="#333" stroke-width="0.9"/>
<line x1="50.58" y1="447.72" x2="50.58" y2="476.10" stroke="#333" stroke-width="0.9" stroke-opacity="0.8"/>
<line x1="55.94" y1="408.41" x2="55.94" y2="458.64" stroke="#333" stroke-width="0.9"/>
<line x1="56.29" y1="458.64" x2="56.29" y2="476.10" stroke="#333" stroke-width="0.9" stroke-opacity="0.8"/>
<line x1="61.65" y1="458.64" x2="61.65" y2="466.45" stroke="#333" stroke-width="0.9"/>
<line x1="62.00" y1="466.45" x2="62.00" y2="476.10" stroke="#333" stroke-width="0.9" stroke-opacity="0.8"/>
<line x1="68.07" y1="465.31" x2="68.07" y2="466.45" stroke="#333" stroke-width="0.9"/>
<line x1="67.72" y1="466.45" x2="67.72" y2="476.10" stroke="#333" stroke-width="0.9" stroke-opacity="0.8"/>
<line x1="73.78" y1="463.02" x2="73.78" y2="465.31" stroke="#333" stroke-width="0.9"/>
<line x1="73.44" y1="465.31" x2="73.44" y2="476.10" stroke="#333" stroke-width="0.9" stroke-opacity="0.8"/>
<line x1="78.80" y1="463.02" x2="78.80" y2="474.58" stroke="#333" stroke-width="0.9"/>
<line x1="79.15" y1="474.58" x2="79.15" y2="476.10" stroke="#333" stroke-width="0.9" stroke-opacity="0.8"/>
<line x1="85.21" y1="442.00" x2="85.21" y2="474.58" stroke="#333" stroke-width="0.9"/>
<line x1="84.86" y1="474.58" x2="84.86" y2="476.10" stroke="#333" stroke-width="0.9" stroke-opacity="0.8"/>
<line x1="90.93" y1="436.41" x2="90.93" y2="442.00" stroke="#333" stroke-width="0.9"/>
<line x1="90.58" y1="442.00" x2="90.58" y2="476.10" stroke="#333" stroke-width="0.9" stroke-opacity="0.8"/>
<line x1="95.95" y1="436.41" x2="95.95" y2="446.38" stroke="#333" stroke-width="0.9"/>
<line x1="96.30" y1="446.38" x2="96.30" y2="476.10" stroke="#333" stroke-width="0.9" stroke-opacity="0.8"/>
<line x1="101.66" y1="446.38" x2="101.66" y2="473.69" stroke="#333" stroke-width="0.9"/>
<line x1="102.01" y1="473.69" x2="102.01" y2="476.10" stroke="#333" stroke-width="0.9" stroke-opacity="0.8"/>
<line x1="108.07" y1="421.17" x2="108.07" y2="473.69" stroke="#333" stroke-width="0.9"/>
<line x1="107.72" y1="473.69" x2="107.72" y2="476.10" stroke="#333" stroke-width="0.9" stroke-opacity="0.8"/>
<line x1="113.09" y1="421.17" x2="113.09" y2="458.64" stroke="#333" stroke-width="0.9"/>
<line x1="113.44" y1="458.64" x2="113.44" y2="476.10" stroke="#333" stroke-width="0.9" stroke-opacity="0.8"/>
<line x1="118.81" y1="458.64" x2="118.81" y2="464.48" stroke="#333" stroke-width="0.9"/>
<line x1="119.16" y1="464.48" x2="119.16" y2="476.10" stroke="#333" stroke-width="0.9" stroke-opacity="0.8"/>
<line x1="125.22" y1="455.65" x2="125.22" y2="464.48" stroke="#333" stroke-width="0.9"/>
<line x1="124.87" y1="464.48" x2="124.87" y2="476.10" stroke="#333" stroke-width="0.9" stroke-opacity="0.8"/>
<line x1="130.23" y1="455.65" x2="130.23" y2="473.43" stroke="#333" stroke-width="0.9"/>
<line x1="130.58" y1="473.43" x2="130.58" y2="476.10" stroke="#333" stroke-width="0.9" stroke-opacity="0.8"/>
<line x1="136.65" y1="408.66" x2="136.65" y2="473.43" stroke="#333" stroke-width="0.9"/>
<line x1="136.30" y1="473.43" x2="136.30" y2="476.10" stroke="#333" stroke-width="0.9" stroke-opacity="0.8"/>
<line x1="141.66" y1="408.66" x2="141.66" y2="461.88" stroke="#333" stroke-width="0.9"/>
<line x1="142.01" y1="461.88" x2="142.01" y2="476.10" stroke="#333" stroke-width="0.9" stroke-opacity="0.8"/>
<line x1="148.08" y1="454.51" x2="148.08" y2="461.88" stroke="#333" stroke-width="0.9"/>
<line x1="147.73" y1="461.88" x2="147.73" y2="476.10" stroke="#333" stroke-width="0.9" stroke-opacity="0.8"/>
<line x1="153.79" y1="451.97" x2="153.79" y2="454.51" stroke="#333" stroke-width="0.9"/>
<line x1="153.44" y1="454.51" x2="153.44" y2="476.10" stroke="#333" stroke-width="0.9" stroke-opacity="0.8"/>
<line x1="158.81" y1="451.97" x2="158.81" y2="471.97" stroke="#333" stroke-width="0.9"/>
<line x1="159.16" y1="471.97" x2="159.16" y2="476.10" stroke="#333" stroke-width="0.9" stroke-opacity="0.8"/>
<line x1="165.22" y1="468.48" x2="165.22" y2="471.97" stroke="#333" stroke-width="0.9"/>
<line x1="164.88" y1="471.97" x2="164.88" y2="476.10" stroke="#333" stroke-width="0.9" stroke-opacity="0.8"/>
<line x1="170.94" y1="465.31" x2="170.94" y2="468.48" stroke="#333" stroke-width="0.9"/>
<line x1="170.59" y1="468.48" x2="170.59" y2="476.10" stroke="#333" stroke-width="0.9" stroke-opacity="0.8"/>
<line x1="175.96" y1="465.31" x2="175.96" y2="470.07" stroke="#333" stroke-width="0.9"/>
<line x1="176.31" y1="470.07" x2="176.31" y2="476.10" stroke="#333" stroke-width="0.9" stroke-opacity="0.8"/>
<line x1="182.37" y1="468.04" x2="182.37" y2="470.07" stroke="#333" stroke-width="0.9"/>
<line x1="182.02" y1="470.07" x2="182.02" y2="476.10" stroke="#333" stroke-width="0.9" stroke-opacity="0.8"/>
<line x1="188.08" y1="461.30" x2="188.08" y2="468.04" stroke="#333" stroke-width="0.9"/>
<line x1="187.73" y1="468.04" x2="187.73" y2="476.10" stroke="#333" stroke-width="0.9" stroke-opacity="0.8"/>
<line x1="193.10" y1="461.30" x2="193.10" y2="476.10" stroke="#333" stroke-width="0.9"/>
<line x1="199.51" y1="471.27" x2="199.51" y2="476.10" stroke="#333" stroke-width="0.9"/>
<line x1="205.23" y1="465.94" x2="205.23" y2="471.27" stroke="#333" stroke-width="0.9"/>
<line x1="204.88" y1="471.27" x2="204.88" y2="476.10" stroke="#333" stroke-width="0.9" stroke-opacity="0.8"/>
<line x1="210.94" y1="457.81" x2="210.94" y2="465.94" stroke="#333" stroke-width="0.9"/>
<line x1="210.59" y1="465.94" x2="210.59" y2="476.10" stroke="#333" stroke-width="0.9" stroke-opacity="0.8"/>
<line x1="215.96" y1="457.81" x2="215.96" y2="471.53" stroke="#333" stroke-width="0.9"/>
<line x1="216.31" y1="471.53" x2="216.31" y2="476.10" stroke="#333" stroke-width="0.9" stroke-opacity="0.8"/>
<line x1="222.38" y1="468.04" x2="222.38" y2="471.53" stroke="#333" stroke-width="0.9"/>
<line x1="222.03" y1="471.53" x2="222.03" y2="476.10" stroke="#333" stroke-width="0.9" stroke-opacity="0.8"/>
<line x1="228.09" y1="466.13" x2="228.09" y2="468.04" stroke="#333" stroke-width="0.9"/>
<line x1="227.74" y1="468.04" x2="227.74" y2="476.10" stroke="#333" stroke-width="0.9" stroke-opacity="0.8"/>
<line x1="233.80" y1="464.04" x2="233.80" y2="466.13" stroke="#333" stroke-width="0.9"/>
<line x1="233.45" y1="466.13" x2="233.45" y2="476.10" stroke="#333" stroke-width="0.9" stroke-opacity="0.8"/>
<line x1="238.82" y1="464.04" x2="238.82" y2="468.04" stroke="#333" stroke-width="0.9"/>
<line x1="239.17" y1="468.04" x2="239.17" y2="476.10" stroke="#333" stroke-width="0.9" stroke-opacity="0.8"/>
<line x1="244.53" y1="468.04" x2="244.53" y2="476.10" stroke="#333" stroke-width="0.9"/>
<line x1="293.70" y1="163.40" x2="298.79" y2="163.40" stroke="#2a2a2a" stroke-width="1.4"/>
<line x1="293.70" y1="108.25" x2="298.79" y2="108.25" stroke="#333" stroke-width="0.9"/>
<line x1="298.79" y1="163.40" x2="303.88" y2="163.40" stroke="#2a2a2a" stroke-width="1.4"/>
<line x1="298.79" y1="103.47" x2="303.88" y2="103.47" stroke="#333" stroke-width="0.9"/>
<line x1="303.88" y1="163.40" x2="308.97" y2="163.40" stroke="#2a2a2a" stroke-width="1.4"/>
<line x1="303.88" y1="89.87" x2="308.97" y2="89.87" stroke="#333" stroke-width="0.9"/>
<line x1="308.97" y1="163.40" x2="314.06" y2="163.40" stroke="#2a2a2a" stroke-width="1.4"/>
<line x1="308.97" y1="105.48" x2="314.06" y2="105.48" stroke="#333" stroke-width="0.9"/>
<line x1="314.06" y1="163.40" x2="319.15" y2="163.40" stroke="#2a2a2a" stroke-width="1.4"/>
<line x1="314.06" y1="121.60" x2="319.15" y2="121.60" stroke="#333" stroke-width="0.9"/>
<line x1="319.15" y1="163.40" x2="324.24" y2="163.40" stroke="#2a2a2a" stroke-width="1.4"/>
<line x1="319.15" y1="84.08" x2="324.24" y2="84.08" stroke="#333" stroke-width="0.9"/>
<line x1="324.24" y1="163.40" x2="329.33" y2="163.40" stroke="#2a2a2a" stroke-width="1.4"/>
<line x1="324.24" y1="141.24" x2="329.33" y2="141.24" stroke="#333" stroke-width="0.9"/>
<line x1="329.33" y1="163.40" x2="334.42" y2="163.40" stroke="#2a2a2a" stroke-width="1.4"/>
<line x1="329.33" y1="105.48" x2="334.42" y2="105.48" stroke="#333" stroke-width="0.9"/>
<line x1="334.42" y1="163.40" x2="339.51" y2="163.40" stroke="#2a2a2a" stroke-width="1.4"/>
<line x1="334.42" y1="109.26" x2="339.51" y2="109.26" stroke="#333" stroke-width="0.9"/>
<line x1="339.51" y1="163.40" x2="344.60" y2="163.40" stroke="#2a2a2a" stroke-width="1.4"/>
<line x1="339.51" y1="85.09" x2="344.60" y2="85.09" stroke="#333" stroke-width="0.9"/>
<line x1="344.60" y1="163.40" x2="349.69" y2="163.40" stroke="#2a2a2a" stroke-width="1.4"/>
<line x1="344.60" y1="101.45" x2="349.69" y2="101.45" stroke="#333" stroke-width="0.9"/>
<line x1="349.69" y1="163.40" x2="354.78" y2="163.40" stroke="#2a2a2a" stroke-width="1.4"/>
<line x1="349.69" y1="122.60" x2="354.78" y2="122.60" stroke="#333" stroke-width="0.9"/>
<line x1="354.78" y1="163.40" x2="359.87" y2="163.40" stroke="#2a2a2a" stroke-width="1.4"/>
<line x1="354.78" y1="55.12" x2="359.87" y2="55.12" stroke="#333" stroke-width="0.9"/>
<line x1="359.87" y1="163.40" x2="364.96" y2="163.40" stroke="#2a2a2a" stroke-width="1.4"/>
<line x1="359.87" y1="114.65" x2="364.96" y2="114.65" stroke="#333" stroke-width="0.9"/>
<line x1="364.96" y1="163.40" x2="370.05" y2="163.40" stroke="#2a2a2a" stroke-width="1.4"/>
<line x1="364.96" y1="103.47" x2="370.05" y2="103.47" stroke="#333" stroke-width="0.9"/>
<line x1="370.05" y1="163.40" x2="375.14" y2="163.40" stroke="#2a2a2a" stroke-width="1.4"/>
<line x1="370.05" y1="73.25" x2="375.14" y2="73.25" stroke="#333" stroke-width="0.9"/>
<line x1="375.14" y1="163.40" x2="380.23" y2="163.40" stroke="#2a2a2a" stroke-width="1.4"/>
<line x1="375.14" y1="32.96" x2="380.23" y2="32.96" stroke="#333" stroke-width="0.9"/>
<line x1="380.23" y1="163.40" x2="385.32" y2="163.40" stroke="#2a2a2a" stroke-width="1.4"/>
<line x1="380.23" y1="57.99" x2="385.32" y2="57.99" stroke="#333" stroke-width="0.9"/>
<line x1="385.32" y1="163.40" x2="390.41" y2="163.40" stroke="#2a2a2a" stroke-width="1.4"/>
<line x1="385.32" y1="80.15" x2="390.41" y2="80.15" stroke="#333" stroke-width="0.9"/>
<line x1="390.41" y1="163.40" x2="395.50" y2="163.40" stroke="#2a2a2a" stroke-width="1.4"/>
<line x1="390.41" y1="44.04" x2="395.50" y2="44.04" stroke="#333" stroke-width="0.9"/>
<line x1="395.50" y1="163.40" x2="400.59" y2="163.40" stroke="#2a2a2a" stroke-width="1.4"/>
<line x1="395.50" y1="155.89" x2="400.59" y2="155.89" stroke="#333" stroke-width="0.9"/>
<line x1="400.59" y1="163.40" x2="405.68" y2="163.40" stroke="#2a2a2a" stroke-width="1.4"/>
<line x1="400.59" y1="159.47" x2="405.68" y2="159.47" stroke="#333" stroke-width="0.9"/>
<line x1="405.68" y1="163.40" x2="410.77" y2="163.40" stroke="#2a2a2a" stroke-width="1.4"/>
<line x1="405.68" y1="159.47" x2="410.77" y2="159.47" stroke="#333" stroke-width="0.9"/>
<line x1="410.77" y1="163.40" x2="415.86" y2="163.40" stroke="#2a2a2a" stroke-width="1.4"/>
<line x1="410.77" y1="65.45" x2="415.86" y2="65.45" stroke="#333" stroke-width="0.9"/>
<line x1="415.86" y1="163.40" x2="420.95" y2="163.40" stroke="#2a2a2a" stroke-width="1.4"/>
<line x1="415.86" y1="107.85" x2="420.95" y2="107.85" stroke="#333" stroke-width="0.9"/>
<line x1="420.95" y1="163.40" x2="426.04" y2="163.40" stroke="#2a2a2a" stroke-width="1.4"/>
<line x1="420.95" y1="154.43" x2="426.04" y2="154.43" stroke="#333" stroke-width="0.9"/>
<line x1="426.04" y1="163.40" x2="431.13" y2="163.40" stroke="#2a2a2a" stroke-width="1.4"/>
<line x1="426.04" y1="145.52" x2="431.13" y2="145.52" stroke="#333" stroke-width="0.9"/>
<line x1="431.13" y1="163.40" x2="436.22" y2="163.40" stroke="#2a2a2a" stroke-width="1.4"/>
<line x1="431.13" y1="154.43" x2="436.22" y2="154.43" stroke="#333" stroke-width="0.9"/>
<line x1="436.22" y1="163.40" x2="441.31" y2="163.40" stroke="#2a2a2a" stroke-width="1.4"/>
<line x1="436.22" y1="158.86" x2="441.31" y2="158.86" stroke="#333" stroke-width="0.9"/>
<line x1="441.31" y1="163.40" x2="446.40" y2="163.40" stroke="#2a2a2a" stroke-width="1.4"/>
<line x1="441.31" y1="64.89" x2="446.40" y2="64.89" stroke="#333" stroke-width="0.9"/>
<line x1="446.40" y1="163.40" x2="451.49" y2="163.40" stroke="#2a2a2a" stroke-width="1.4"/>
<line x1="446.40" y1="151.46" x2="451.49" y2="151.46" stroke="#333" stroke-width="0.9"/>
<line x1="451.49" y1="163.40" x2="456.58" y2="163.40" stroke="#2a2a2a" stroke-width="1.4"/>
<line x1="451.49" y1="97.48" x2="456.58" y2="97.48" stroke="#333" stroke-width="0.9"/>
<line x1="456.58" y1="163.40" x2="461.67" y2="163.40" stroke="#2a2a2a" stroke-width="1.4"/>
<line x1="456.58" y1="116.46" x2="461.67" y2="116.46" stroke="#333" stroke-width="0.9"/>
<rect x="461.67" y="162.80" width="5.09" height="0.70" fill="#4a4a4a"/>
<line x1="466.76" y1="163.40" x2="471.85" y2="163.40" stroke="#2a2a2a" stroke-width="1.4"/>
<line x1="466.76" y1="154.43" x2="471.85" y2="154.43" stroke="#333" stroke-width="0.9"/>
<line x1="471.85" y1="163.40" x2="476.94" y2="163.40" stroke="#2a2a2a" stroke-width="1.4"/>
<line x1="471.85" y1="29.29" x2="476.94" y2="29.29" stroke="#333" stroke-width="0.9"/>
<rect x="476.94" y="162.80" width="5.09" height="0.70" fill="#4a4a4a"/>
<line x1="482.03" y1="163.40" x2="487.12" y2="163.40" stroke="#2a2a2a" stroke-width="1.4"/>
<line x1="482.03" y1="157.96" x2="487.12" y2="157.96" stroke="#333" stroke-width="0.9"/>
<line x1="487.12" y1="163.40" x2="492.21" y2="163.40" stroke="#2a2a2a" stroke-width="1.4"/>
<line x1="487.12" y1="113.54" x2="492.21" y2="113.54" stroke="#333" stroke-width="0.9"/>
<line x1="492.21" y1="163.40" x2="497.30" y2="163.40" stroke="#2a2a2a" stroke-width="1.4"/>
<line x1="492.21" y1="159.47" x2="497.30" y2="159.47" stroke="#333" stroke-width="0.9"/>
<line x1="497.30" y1="163.40" x2="502.39" y2="163.40" stroke="#2a2a2a" stroke-width="1.4"/>
<line x1="497.30" y1="123.28" x2="502.39" y2="123.28" stroke="#333" stroke-width="0.9"/>
<line x1="502.39" y1="163.40" x2="507.48" y2="163.40" stroke="#2a2a2a" stroke-width="1.4"/>
<line x1="502.39" y1="155.34" x2="507.48" y2="155.34" stroke="#333" stroke-width="0.9"/>
<line x1="507.48" y1="163.40" x2="512.57" y2="163.40" stroke="#2a2a2a" stroke-width="1.4"/>
<line x1="507.48" y1="157.35" x2="512.57" y2="157.35" stroke="#333" stroke-width="0.9"/>
<line x1="512.57" y1="163.40" x2="517.66" y2="163.40" stroke="#2a2a2a" stroke-width="1.4"/>
<line x1="512.57" y1="160.37" x2="517.66" y2="160.37" stroke="#333" stroke-width="0.9"/>
<line x1="294.05" y1="107.85" x2="294.05" y2="163.50" stroke="#333" stroke-width="0.9"/>
<line x1="299.14" y1="103.07" x2="299.14" y2="107.85" stroke="#333" stroke-width="0.9"/>
<line x1="298.79" y1="107.85" x2="298.79" y2="163.50" stroke="#333" stroke-width="0.9" stroke-opacity="0.8"/>
<line x1="304.23" y1="89.47" x2="304.23" y2="103.07" stroke="#333" stroke-width="0.9"/>
<line x1="303.88" y1="103.07" x2="303.88" y2="163.50" stroke="#333" stroke-width="0.9" stroke-opacity="0.8"/>
<line x1="308.62" y1="89.47" x2="308.62" y2="105.08" stroke="#333" stroke-width="0.9"/>
<line x1="308.97" y1="105.08" x2="308.97" y2="163.50" stroke="#333" stroke-width="0.9" stroke-opacity="0.8"/>
<line x1="313.71" y1="105.08" x2="313.71" y2="121.20" stroke="#333" stroke-width="0.9"/>
<line x1="314.06" y1="121.20" x2="314.06" y2="163.50" stroke="#333" stroke-width="0.9" stroke-opacity="0.8"/>
<line x1="319.50" y1="83.68" x2="319.50" y2="121.20" stroke="#333" stroke-width="0.9"/>
<line x1="319.15" y1="121.20" x2="319.15" y2="163.50" stroke="#333" stroke-width="0.9" stroke-opacity="0.8"/>
<line x1="323.89" y1="83.68" x2="323.89" y2="140.84" stroke="#333" stroke-width="0.9"/>
<line x1="324.24" y1="140.84" x2="324.24" y2="163.50" stroke="#333" stroke-width="0.9" stroke-opacity="0.8"/>
<line x1="329.68" y1="105.08" x2="329.68" y2="140.84" stroke="#333" stroke-width="0.9"/>
<line x1="329.33" y1="140.84" x2="329.33" y2="163.50" stroke="#333" stroke-width="0.9" stroke-opacity="0.8"/>
<line x1="334.07" y1="105.08" x2="334.07" y2="108.86" stroke="#333" stroke-width="0.9"/>
<line x1="334.42" y1="108.86" x2="334.42" y2="163.50" stroke="#333" stroke-width="0.9" stroke-opacity="0.8"/>
<line x1="339.86" y1="84.69" x2="339.86" y2="108.86" stroke="#333" stroke-width="0.9"/>
<line x1="339.51" y1="108.86" x2="339.51" y2="163.50" stroke="#333" stroke-width="0.9" stroke-opacity="0.8"/>
<line x1="344.25" y1="84.69" x2="344.25" y2="101.05" stroke="#333" stroke-width="0.9"/>
<line x1="344.60" y1="101.05" x2="344.60" y2="163.50" stroke="#333" stroke-width="0.9" stroke-opacity="0.8"/>
<line x1="349.34" y1="101.05" x2="349.34" y2="122.20" stroke="#333" stroke-width="0.9"/>
<line x1="349.69" y1="122.20" x2="349.69" y2="163.50" stroke="#333" stroke-width="0.9" stroke-opacity="0.8"/>
<line x1="355.13" y1="54.72" x2="355.13" y2="122.20" stroke="#333" stroke-width="0.9"/>
<line x1="354.78" y1="122.20" x2="354.78" y2="163.50" stroke="#333" stroke-width="0.9" stroke-opacity="0.8"/>
<line x1="359.52" y1="54.72" x2="359.52" y2="114.25" stroke="#333" stroke-width="0.9"/>
<line x1="359.87" y1="114.25" x2="359.87" y2="163.50" stroke="#333" stroke-width="0.9" stroke-opacity="0.8"/>
<line x1="365.31" y1="103.07" x2="365.31" y2="114.25" stroke="#333" stroke-width="0.9"/>
<line x1="364.96" y1="114.25" x2="364.96" y2="163.50" stroke="#333" stroke-width="0.9" stroke-opacity="0.8"/>
<line x1="370.40" y1="72.85" x2="370.40" y2="103.07" stroke="#333" stroke-width="0.9"/>
<line x1="370.05" y1="103.07" x2="370.05" y2="163.50" stroke="#333" stroke-width="0.9" stroke-opacity="0.8"/>
<line x1="375.49" y1="32.56" x2="375.49" y2="72.85" stroke="#333" stroke-width="0.9"/>
<line x1="375.14" y1="72.85" x2="375.14" y2="163.50" stroke="#333" stroke-width="0.9" stroke-opacity="0.8"/>
<line x1="379.88" y1="32.56" x2="379.88" y2="57.59" stroke="#333" stroke-width="0.9"/>
<line x1="380.23" y1="57.59" x2="380.23" y2="163.50" stroke="#333" stroke-width="0.9" stroke-opacity="0.8"/>
<line x1="384.97" y1="57.59" x2="384.97" y2="79.75" stroke="#333" stroke-width="0.9"/>
<line x1="385.32" y1="79.75" x2="385.32" y2="163.50" stroke="#333" stroke-width="0.9" stroke-opacity="0.8"/>
<line x1="390.76" y1="43.64" x2="390.76" y2="79.75" stroke="#333" stroke-width="0.9"/>
<line x1="390.41" y1="79.75" x2="390.41" y2="163.50" stroke="#333" stroke-width="0.9" stroke-opacity="0.8"/>
<line x1="395.15" y1="43.64" x2="395.15" y2="155.49" stroke="#333" stroke-width="0.9"/>
<line x1="395.50" y1="155.49" x2="395.50" y2="163.50" stroke="#333" stroke-width="0.9" stroke-opacity="0.8"/>
<line x1="400.24" y1="155.49" x2="400.24" y2="159.07" stroke="#333" stroke-width="0.9"/>
<line x1="400.59" y1="159.07" x2="400.59" y2="163.50" stroke="#333" stroke-width="0.9" stroke-opacity="0.8"/>
<line x1="405.68" y1="159.07" x2="405.68" y2="163.50" stroke="#333" stroke-width="0.9" stroke-opacity="0.8"/>
<line x1="411.12" y1="65.05" x2="411.12" y2="159.07" stroke="#333" stroke-width="0.9"/>
<line x1="410.77" y1="159.07" x2="410.77" y2="163.50" stroke="#333" stroke-width="0.9" stroke-opacity="0.8"/>
<line x1="415.51" y1="65.05" x2="415.51" y2="107.45" stroke="#333" stroke-width="0.9"/>
<line x1="415.86" y1="107.45" x2="415.86" y2="163.50" stroke="#333" stroke-width="0.9" stroke-opacity="0.8"/>
<line x1="420.60" y1="107.45" x2="420.60" y2="154.03" stroke="#333" stroke-width="0.9"/>
<line x1="420.95" y1="154.03" x2="420.95" y2="163.50" stroke="#333" stroke-width="0.9" stroke-opacity="0.8"/>
<line x1="426.39" y1="145.12" x2="426.39" y2="154.03" stroke="#333" stroke-width="0.9"/>
<line x1="426.04" y1="154.03" x2="426.04" y2="163.50" stroke="#333" stroke-width="0.9" stroke-opacity="0.8"/>
<line x1="430.78" y1="145.12" x2="430.78" y2="154.03" stroke="#333" stroke-width="0.9"/>
<line x1="431.13" y1="154.03" x2="431.13" y2="163.50" stroke="#333" stroke-width="0.9" stroke-opacity="0.8"/>
<line x1="435.87" y1="154.03" x2="435.87" y2="158.46" stroke="#333" stroke-width="0.9"/>
<line x1="436.22" y1="158.46" x2="436.22" y2="163.50" stroke="#333" stroke-width="0.9" stroke-opacity="0.8"/>
<line x1="441.66" y1="64.49" x2="441.66" y2="158.46" stroke="#333" stroke-width="0.9"/>
<line x1="441.31" y1="158.46" x2="441.31" y2="163.50" stroke="#333" stroke-width="0.9" stroke-opacity="0.8"/>
<line x1="446.05" y1="64.49" x2="446.05" y2="151.06" stroke="#333" stroke-width="0.9"/>
<line x1="446.40" y1="151.06" x2="446.40" y2="163.50" stroke="#333" stroke-width="0.9" stroke-opacity="0.8"/>
<line x1="451.84" y1="97.08" x2="451.84" y2="151.06" stroke="#333" stroke-width="0.9"/>
<line x1="451.49" y1="151.06" x2="451.49" y2="163.50" stroke="#333" stroke-width="0.9" stroke-opacity="0.8"/>
<line x1="456.23" y1="97.08" x2="456.23" y2="116.06" stroke="#333" stroke-width="0.9"/>
<line x1="456.58" y1="116.06" x2="456.58" y2="163.50" stroke="#333" stroke-width="0.9" stroke-opacity="0.8"/>
<line x1="461.32" y1="116.06" x2="461.32" y2="163.50" stroke="#333" stroke-width="0.9"/>
<line x1="467.11" y1="154.03" x2="467.11" y2="163.50" stroke="#333" stroke-width="0.9"/>
<line x1="472.20" y1="28.89" x2="472.20" y2="154.03" stroke="#333" stroke-width="0.9"/>
<line x1="471.85" y1="154.03" x2="471.85" y2="163.50" stroke="#333" stroke-width="0.9" stroke-opacity="0.8"/>
<line x1="476.59" y1="28.89" x2="476.59" y2="163.50" stroke="#333" stroke-width="0.9"/>
<line x1="482.38" y1="157.56" x2="482.38" y2="163.50" stroke="#333" stroke-width="0.9"/>
<line x1="487.47" y1="113.14" x2="487.47" y2="157.56" stroke="#333" stroke-width="0.9"/>
<line x1="487.12" y1="157.56" x2="487.12" y2="163.50" stroke="#333" stroke-width="0.9" stroke-opacity="0.8"/>
<line x1="491.86" y1="113.14" x2="491.86" y2="159.07" stroke="#333" stroke-width="0.9"/>
<line x1="492.21" y1="159.07" x2="492.21" y2="163.50" stroke="#333" stroke-width="0.9" stroke-opacity="0.8"/>
<line x1="497.65" y1="122.88" x2="497.65" y2="159.07" stroke="#333" stroke-width="0.9"/>
<line x1="497.30" y1="159.07" x2="497.30" y2="163.50" stroke="#333" stroke-width="0.9" stroke-opacity="0.8"/>
<line x1="502.04" y1="122.88" x2="502.04" y2="154.94" stroke="#333" stroke-width="0.9"/>
<line x1="502.39" y1="154.94" x2="502.39" y2="163.50" stroke="#333" stroke-width="0.9" stroke-opacity="0.8"/>
<line x1="507.13" y1="154.94" x2="507.13" y2="156.95" stroke="#333" stroke-width="0.9"/>
<line x1="507.48" y1="156.95" x2="507.48" y2="163.50" stroke="#333" stroke-width="0.9" stroke-opacity="0.8"/>
<line x1="512.22" y1="156.95" x2="512.22" y2="159.97" stroke="#333" stroke-width="0.9"/>
<line x1="512.57" y1="159.97" x2="512.57" y2="163.50" stroke="#333" stroke-width="0.9" stroke-opacity="0.8"/>
<line x1="517.31" y1="159.97" x2="517.31" y2="163.50" stroke="#333" stroke-width="0.9"/>
<line x1="293.90" y1="318.90" x2="298.98" y2="318.90" stroke="#2a2a2a" stroke-width="1.4"/>
<line x1="293.90" y1="287.45" x2="298.98" y2="287.45" stroke="#333" stroke-width="0.9"/>
<line x1="298.98" y1="318.90" x2="304.06" y2="318.90" stroke="#2a2a2a" stroke-width="1.4"/>
<line x1="298.98" y1="243.78" x2="304.06" y2="243.78" stroke="#333" stroke-width="0.9"/>
<line x1="304.06" y1="318.90" x2="309.14" y2="318.90" stroke="#2a2a2a" stroke-width="1.4"/>
<line x1="304.06" y1="278.22" x2="309.14" y2="278.22" stroke="#333" stroke-width="0.9"/>
<line x1="309.14" y1="318.90" x2="314.22" y2="318.90" stroke="#2a2a2a" stroke-width="1.4"/>
<line x1="309.14" y1="298.95" x2="314.22" y2="298.95" stroke="#333" stroke-width="0.9"/>
<rect x="314.22" y="318.30" width="5.08" height="0.70" fill="#4a4a4a"/>
<line x1="319.30" y1="318.90" x2="324.38" y2="318.90" stroke="#2a2a2a" stroke-width="1.4"/>
<line x1="319.30" y1="282.98" x2="324.38" y2="282.98" stroke="#333" stroke-width="0.9"/>
<line x1="324.38" y1="318.90" x2="329.46" y2="318.90" stroke="#2a2a2a" stroke-width="1.4"/>
<line x1="324.38" y1="313.01" x2="329.46" y2="313.01" stroke="#333" stroke-width="0.9"/>
<line x1="329.46" y1="318.90" x2="334.54" y2="318.90" stroke="#2a2a2a" stroke-width="1.4"/>
<line x1="329.46" y1="185.56" x2="334.54" y2="185.56" stroke="#333" stroke-width="0.9"/>
<line x1="334.54" y1="318.90" x2="339.62" y2="318.90" stroke="#2a2a2a" stroke-width="1.4"/>
<line x1="334.54" y1="293.63" x2="339.62" y2="293.63" stroke="#333" stroke-width="0.9"/>
<line x1="339.62" y1="318.90" x2="344.70" y2="318.90" stroke="#2a2a2a" stroke-width="1.4"/>
<line x1="339.62" y1="300.58" x2="344.70" y2="300.58" stroke="#333" stroke-width="0.9"/>
<line x1="344.70" y1="318.90" x2="349.78" y2="318.90" stroke="#2a2a2a" stroke-width="1.4"/>
<line x1="344.70" y1="297.75" x2="349.78" y2="297.75" stroke="#333" stroke-width="0.9"/>
<line x1="349.78" y1="318.90" x2="354.86" y2="318.90" stroke="#2a2a2a" stroke-width="1.4"/>
<line x1="349.78" y1="307.40" x2="354.86" y2="307.40" stroke="#333" stroke-width="0.9"/>
<line x1="354.86" y1="318.90" x2="359.94" y2="318.90" stroke="#2a2a2a" stroke-width="1.4"/>
<line x1="354.86" y1="188.41" x2="359.94" y2="188.41" stroke="#333" stroke-width="0.9"/>
<line x1="359.94" y1="318.90" x2="365.02" y2="318.90" stroke="#2a2a2a" stroke-width="1.4"/>
<line x1="359.94" y1="292.14" x2="365.02" y2="292.14" stroke="#333" stroke-width="0.9"/>
<line x1="365.02" y1="318.90" x2="370.10" y2="318.90" stroke="#2a2a2a" stroke-width="1.4"/>
<line x1="365.02" y1="233.84" x2="370.10" y2="233.84" stroke="#333" stroke-width="0.9"/>
<line x1="370.10" y1="318.90" x2="375.18" y2="318.90" stroke="#2a2a2a" stroke-width="1.4"/>
<line x1="370.10" y1="277.51" x2="375.18" y2="277.51" stroke="#333" stroke-width="0.9"/>
<line x1="375.18" y1="318.90" x2="380.26" y2="318.90" stroke="#2a2a2a" stroke-width="1.4"/>
<line x1="375.18" y1="281.49" x2="380.26" y2="281.49" stroke="#333" stroke-width="0.9"/>
<line x1="380.26" y1="318.90" x2="385.34" y2="318.90" stroke="#2a2a2a" stroke-width="1.4"/>
<line x1="380.26" y1="269.13" x2="385.34" y2="269.13" stroke="#333" stroke-width="0.9"/>
<line x1="385.34" y1="318.90" x2="390.42" y2="318.90" stroke="#2a2a2a" stroke-width="1.4"/>
<line x1="385.34" y1="282.98" x2="390.42" y2="282.98" stroke="#333" stroke-width="0.9"/>
<line x1="390.42" y1="318.90" x2="395.50" y2="318.90" stroke="#2a2a2a" stroke-width="1.4"/>
<line x1="390.42" y1="208.64" x2="395.50" y2="208.64" stroke="#333" stroke-width="0.9"/>
<rect x="410.74" y="317.94" width="5.08" height="1.07" fill="#4a4a4a"/>
<rect x="415.82" y="317.94" width="5.08" height="1.07" fill="#4a4a4a"/>
<rect x="420.90" y="317.94" width="5.08" height="1.07" fill="#4a4a4a"/>
<rect x="425.98" y="317.94" width="5.08" height="1.07" fill="#4a4a4a"/>
<rect x="431.06" y="317.94" width="5.08" height="1.07" fill="#4a4a4a"/>
<rect x="436.14" y="318.30" width="5.08" height="0.70" fill="#4a4a4a"/>
<line x1="441.22" y1="318.90" x2="446.30" y2="318.90" stroke="#2a2a2a" stroke-width="1.4"/>
<line x1="441.22" y1="316.56" x2="446.30" y2="316.56" stroke="#333" stroke-width="0.9"/>
<line x1="446.30" y1="318.90" x2="451.38" y2="318.90" stroke="#2a2a2a" stroke-width="1.4"/>
<line x1="446.30" y1="316.56" x2="451.38" y2="316.56" stroke="#333" stroke-width="0.9"/>
<line x1="451.38" y1="318.90" x2="456.46" y2="318.90" stroke="#2a2a2a" stroke-width="1.4"/>
<line x1="451.38" y1="317.98" x2="456.46" y2="317.98" stroke="#333" stroke-width="0.9"/>
<line x1="456.46" y1="318.90" x2="461.54" y2="318.90" stroke="#2a2a2a" stroke-width="1.4"/>
<line x1="456.46" y1="317.98" x2="461.54" y2="317.98" stroke="#333" stroke-width="0.9"/>
<line x1="461.54" y1="318.90" x2="466.62" y2="318.90" stroke="#2a2a2a" stroke-width="1.4"/>
<line x1="461.54" y1="317.98" x2="466.62" y2="317.98" stroke="#333" stroke-width="0.9"/>
<line x1="466.62" y1="318.90" x2="471.70" y2="318.90" stroke="#2a2a2a" stroke-width="1.4"/>
<line x1="466.62" y1="317.62" x2="471.70" y2="317.62" stroke="#333" stroke-width="0.9"/>
<rect x="471.70" y="318.30" width="5.08" height="0.70" fill="#4a4a4a"/>
<line x1="476.78" y1="318.90" x2="481.86" y2="318.90" stroke="#2a2a2a" stroke-width="1.4"/>
<line x1="476.78" y1="317.62" x2="481.86" y2="317.62" stroke="#333" stroke-width="0.9"/>
<rect x="481.86" y="317.94" width="5.08" height="1.07" fill="#4a4a4a"/>
<line x1="294.25" y1="287.05" x2="294.25" y2="319.00" stroke="#333" stroke-width="0.9"/>
<line x1="299.33" y1="243.38" x2="299.33" y2="287.05" stroke="#333" stroke-width="0.9"/>
<line x1="298.98" y1="287.05" x2="298.98" y2="319.00" stroke="#333" stroke-width="0.9" stroke-opacity="0.8"/>
<line x1="303.71" y1="243.38" x2="303.71" y2="277.82" stroke="#333" stroke-width="0.9"/>
<line x1="304.06" y1="277.82" x2="304.06" y2="319.00" stroke="#333" stroke-width="0.9" stroke-opacity="0.8"/>
<line x1="308.79" y1="277.82" x2="308.79" y2="298.55" stroke="#333" stroke-width="0.9"/>
<line x1="309.14" y1="298.55" x2="309.14" y2="319.00" stroke="#333" stroke-width="0.9" stroke-opacity="0.8"/>
<line x1="313.87" y1="298.55" x2="313.87" y2="319.00" stroke="#333" stroke-width="0.9"/>
<line x1="319.65" y1="282.58" x2="319.65" y2="319.00" stroke="#333" stroke-width="0.9"/>
<line x1="324.03" y1="282.58" x2="324.03" y2="312.61" stroke="#333" stroke-width="0.9"/>
<line x1="324.38" y1="312.61" x2="324.38" y2="319.00" stroke="#333" stroke-width="0.9" stroke-opacity="0.8"/>
<line x1="329.81" y1="185.16" x2="329.81" y2="312.61" stroke="#333" stroke-width="0.9"/>
<line x1="329.46" y1="312.61" x2="329.46" y2="319.00" stroke="#333" stroke-width="0.9" stroke-opacity="0.8"/>
<line x1="334.19" y1="185.16" x2="334.19" y2="293.23" stroke="#333" stroke-width="0.9"/>
<line x1="334.54" y1="293.23" x2="334.54" y2="319.00" stroke="#333" stroke-width="0.9" stroke-opacity="0.8"/>
<line x1="339.27" y1="293.23" x2="339.27" y2="300.19" stroke="#333" stroke-width="0.9"/>
<line x1="339.62" y1="300.19" x2="339.62" y2="319.00" stroke="#333" stroke-width="0.9" stroke-opacity="0.8"/>
<line x1="345.05" y1="297.35" x2="345.05" y2="300.19" stroke="#333" stroke-width="0.9"/>
<line x1="344.70" y1="300.19" x2="344.70" y2="319.00" stroke="#333" stroke-width="0.9" stroke-opacity="0.8"/>
<line x1="349.43" y1="297.35" x2="349.43" y2="307.00" stroke="#333" stroke-width="0.9"/>
<line x1="349.78" y1="307.00" x2="349.78" y2="319.00" stroke="#333" stroke-width="0.9" stroke-opacity="0.8"/>
<line x1="355.21" y1="188.00" x2="355.21" y2="307.00" stroke="#333" stroke-width="0.9"/>
<line x1="354.86" y1="307.00" x2="354.86" y2="319.00" stroke="#333" stroke-width="0.9" stroke-opacity="0.8"/>
<line x1="359.59" y1="188.00" x2="359.59" y2="291.74" stroke="#333" stroke-width="0.9"/>
<line x1="359.94" y1="291.74" x2="359.94" y2="319.00" stroke="#333" stroke-width="0.9" stroke-opacity="0.8"/>
<line x1="365.37" y1="233.44" x2="365.37" y2="291.74" stroke="#333" stroke-width="0.9"/>
<line x1="365.02" y1="291.74" x2="365.02" y2="319.00" stroke="#333" stroke-width="0.9" stroke-opacity="0.8"/>
<line x1="369.75" y1="233.44" x2="369.75" y2="277.11" stroke="#333" stroke-width="0.9"/>
<line x1="370.10" y1="277.11" x2="370.10" y2="319.00" stroke="#333" stroke-width="0.9" stroke-opacity="0.8"/>
<line x1="374.83" y1="277.11" x2="374.83" y2="281.09" stroke="#333" stroke-width="0.9"/>
<line x1="375.18" y1="281.09" x2="375.18" y2="319.00" stroke="#333" stroke-width="0.9" stroke-opacity="0.8"/>
<line x1="380.61" y1="268.73" x2="380.61" y2="281.09" stroke="#333" stroke-width="0.9"/>
<line x1="380.26" y1="281.09" x2="380.26" y2="319.00" stroke="#333" stroke-width="0.9" stroke-opacity="0.8"/>
<line x1="384.99" y1="268.73" x2="384.99" y2="282.58" stroke="#333" stroke-width="0.9"/>
<line x1="385.34" y1="282.58" x2="385.34" y2="319.00" stroke="#333" stroke-width="0.9" stroke-opacity="0.8"/>
<line x1="390.77" y1="208.24" x2="390.77" y2="282.58" stroke="#333" stroke-width="0.9"/>
<line x1="390.42" y1="282.58" x2="390.42" y2="319.00" stroke="#333" stroke-width="0.9" stroke-opacity="0.8"/>
<line x1="395.15" y1="208.24" x2="395.15" y2="319.00" stroke="#333" stroke-width="0.9"/>
<line x1="441.57" y1="316.16" x2="441.57" y2="319.00" stroke="#333" stroke-width="0.9"/>
<line x1="446.30" y1="316.16" x2="446.30" y2="319.00" stroke="#333" stroke-width="0.9" stroke-opacity="0.8"/>
<line x1="451.03" y1="316.16" x2="451.03" y2="317.58" stroke="#333" stroke-width="0.9"/>
<line x1="451.38" y1="317.58" x2="451.38" y2="319.00" stroke="#333" stroke-width="0.9" stroke-opacity="0.8"/>
<line x1="456.46" y1="317.58" x2="456.46" y2="319.00" stroke="#333" stroke-width="0.9" stroke-opacity="0.8"/>
<line x1="461.54" y1="317.58" x2="461.54" y2="319.00" stroke="#333" stroke-width="0.9" stroke-opacity="0.8"/>
<line x1="466.97" y1="317.23" x2="466.97" y2="317.58" stroke="#333" stroke-width="0.9"/>
<line x1="466.62" y1="317.58" x2="466.62" y2="319.00" stroke="#333" stroke-width="0.9" stroke-opacity="0.8"/>
<line x1="471.35" y1="317.23" x2="471.35" y2="319.00" stroke="#333" stroke-width="0.9"/>
<line x1="477.13" y1="317.23" x2="477.13" y2="319.00" stroke="#333" stroke-width="0.9"/>
<line x1="481.51" y1="317.23" x2="481.51" y2="319.00" stroke="#333" stroke-width="0.9"/>
<line x1="294.20" y1="474.90" x2="299.26" y2="474.90" stroke="#2a2a2a" stroke-width="1.4"/>
<line x1="294.20" y1="458.49" x2="299.26" y2="458.49" stroke="#333" stroke-width="0.9"/>
<line x1="299.26" y1="474.90" x2="304.33" y2="474.90" stroke="#2a2a2a" stroke-width="1.4"/>
<line x1="299.26" y1="446.37" x2="304.33" y2="446.37" stroke="#333" stroke-width="0.9"/>
<line x1="304.33" y1="474.90" x2="309.39" y2="474.90" stroke="#2a2a2a" stroke-width="1.4"/>
<line x1="304.33" y1="427.82" x2="309.39" y2="427.82" stroke="#333" stroke-width="0.9"/>
<line x1="309.39" y1="474.90" x2="314.46" y2="474.90" stroke="#2a2a2a" stroke-width="1.4"/>
<line x1="309.39" y1="437.48" x2="314.46" y2="437.48" stroke="#333" stroke-width="0.9"/>
<line x1="314.46" y1="474.90" x2="319.52" y2="474.90" stroke="#2a2a2a" stroke-width="1.4"/>
<line x1="314.46" y1="456.53" x2="319.52" y2="456.53" stroke="#333" stroke-width="0.9"/>
<line x1="319.52" y1="474.90" x2="324.59" y2="474.90" stroke="#2a2a2a" stroke-width="1.4"/>
<line x1="319.52" y1="439.43" x2="324.59" y2="439.43" stroke="#333" stroke-width="0.9"/>
<line x1="324.59" y1="474.90" x2="329.65" y2="474.90" stroke="#2a2a2a" stroke-width="1.4"/>
<line x1="324.59" y1="460.70" x2="329.65" y2="460.70" stroke="#333" stroke-width="0.9"/>
<line x1="329.65" y1="474.90" x2="334.72" y2="474.90" stroke="#2a2a2a" stroke-width="1.4"/>
<line x1="329.65" y1="443.16" x2="334.72" y2="443.16" stroke="#333" stroke-width="0.9"/>
<line x1="334.72" y1="474.90" x2="339.78" y2="474.90" stroke="#2a2a2a" stroke-width="1.4"/>
<line x1="334.72" y1="463.98" x2="339.78" y2="463.98" stroke="#333" stroke-width="0.9"/>
<line x1="339.78" y1="474.90" x2="344.85" y2="474.90" stroke="#2a2a2a" stroke-width="1.4"/>
<line x1="339.78" y1="431.99" x2="344.85" y2="431.99" stroke="#333" stroke-width="0.9"/>
<line x1="344.85" y1="474.90" x2="349.92" y2="474.90" stroke="#2a2a2a" stroke-width="1.4"/>
<line x1="344.85" y1="442.40" x2="349.92" y2="442.40" stroke="#333" stroke-width="0.9"/>
<line x1="349.91" y1="474.90" x2="354.98" y2="474.90" stroke="#2a2a2a" stroke-width="1.4"/>
<line x1="349.91" y1="457.54" x2="354.98" y2="457.54" stroke="#333" stroke-width="0.9"/>
<line x1="354.98" y1="474.90" x2="360.05" y2="474.90" stroke="#2a2a2a" stroke-width="1.4"/>
<line x1="354.98" y1="372.93" x2="360.05" y2="372.93" stroke="#333" stroke-width="0.9"/>
<line x1="360.04" y1="474.90" x2="365.11" y2="474.90" stroke="#2a2a2a" stroke-width="1.4"/>
<line x1="360.04" y1="457.54" x2="365.11" y2="457.54" stroke="#333" stroke-width="0.9"/>
<line x1="365.11" y1="474.90" x2="370.18" y2="474.90" stroke="#2a2a2a" stroke-width="1.4"/>
<line x1="365.11" y1="443.85" x2="370.18" y2="443.85" stroke="#333" stroke-width="0.9"/>
<line x1="370.18" y1="474.90" x2="375.24" y2="474.90" stroke="#2a2a2a" stroke-width="1.4"/>
<line x1="370.18" y1="456.97" x2="375.24" y2="456.97" stroke="#333" stroke-width="0.9"/>
<line x1="375.24" y1="474.90" x2="380.31" y2="474.90" stroke="#2a2a2a" stroke-width="1.4"/>
<line x1="375.24" y1="376.90" x2="380.31" y2="376.90" stroke="#333" stroke-width="0.9"/>
<line x1="380.31" y1="474.90" x2="385.37" y2="474.90" stroke="#2a2a2a" stroke-width="1.4"/>
<line x1="380.31" y1="346.74" x2="385.37" y2="346.74" stroke="#333" stroke-width="0.9"/>
<line x1="385.37" y1="474.90" x2="390.44" y2="474.90" stroke="#2a2a2a" stroke-width="1.4"/>
<line x1="385.37" y1="453.69" x2="390.44" y2="453.69" stroke="#333" stroke-width="0.9"/>
<line x1="390.44" y1="474.90" x2="395.50" y2="474.90" stroke="#2a2a2a" stroke-width="1.4"/>
<line x1="390.44" y1="407.25" x2="395.50" y2="407.25" stroke="#333" stroke-width="0.9"/>
<line x1="395.50" y1="474.90" x2="400.56" y2="474.90" stroke="#2a2a2a" stroke-width="1.4"/>
<line x1="395.50" y1="472.40" x2="400.56" y2="472.40" stroke="#333" stroke-width="0.9"/>
<line x1="400.56" y1="474.90" x2="405.63" y2="474.90" stroke="#2a2a2a" stroke-width="1.4"/>
<line x1="400.56" y1="469.66" x2="405.63" y2="469.66" stroke="#333" stroke-width="0.9"/>
<line x1="405.63" y1="474.90" x2="410.69" y2="474.90" stroke="#2a2a2a" stroke-width="1.4"/>
<line x1="405.63" y1="471.65" x2="410.69" y2="471.65" stroke="#333" stroke-width="0.9"/>
<line x1="410.69" y1="474.90" x2="415.76" y2="474.90" stroke="#2a2a2a" stroke-width="1.4"/>
<line x1="410.69" y1="467.89" x2="415.76" y2="467.89" stroke="#333" stroke-width="0.9"/>
<line x1="415.76" y1="474.90" x2="420.82" y2="474.90" stroke="#2a2a2a" stroke-width="1.4"/>
<line x1="415.76" y1="463.41" x2="420.82" y2="463.41" stroke="#333" stroke-width="0.9"/>
<line x1="420.82" y1="474.90" x2="425.89" y2="474.90" stroke="#2a2a2a" stroke-width="1.4"/>
<line x1="420.82" y1="467.89" x2="425.89" y2="467.89" stroke="#333" stroke-width="0.9"/>
<line x1="425.89" y1="474.90" x2="430.95" y2="474.90" stroke="#2a2a2a" stroke-width="1.4"/>
<line x1="425.89" y1="468.65" x2="430.95" y2="468.65" stroke="#333" stroke-width="0.9"/>
<line x1="430.96" y1="474.90" x2="436.02" y2="474.90" stroke="#2a2a2a" stroke-width="1.4"/>
<line x1="430.96" y1="469.66" x2="436.02" y2="469.66" stroke="#333" stroke-width="0.9"/>
<line x1="436.02" y1="474.90" x2="441.08" y2="474.90" stroke="#2a2a2a" stroke-width="1.4"/>
<line x1="436.02" y1="466.12" x2="441.08" y2="466.12" stroke="#333" stroke-width="0.9"/>
<line x1="441.09" y1="474.90" x2="446.15" y2="474.90" stroke="#2a2a2a" stroke-width="1.4"/>
<line x1="441.09" y1="457.35" x2="446.15" y2="457.35" stroke="#333" stroke-width="0.9"/>
<line x1="446.15" y1="474.90" x2="451.21" y2="474.90" stroke="#2a2a2a" stroke-width="1.4"/>
<line x1="446.15" y1="460.89" x2="451.21" y2="460.89" stroke="#333" stroke-width="0.9"/>
<line x1="451.22" y1="474.90" x2="456.28" y2="474.90" stroke="#2a2a2a" stroke-width="1.4"/>
<line x1="451.22" y1="454.64" x2="456.28" y2="454.64" stroke="#333" stroke-width="0.9"/>
<line x1="456.28" y1="474.90" x2="461.34" y2="474.90" stroke="#2a2a2a" stroke-width="1.4"/>
<line x1="456.28" y1="461.64" x2="461.34" y2="461.64" stroke="#333" stroke-width="0.9"/>
<line x1="461.35" y1="474.90" x2="466.41" y2="474.90" stroke="#2a2a2a" stroke-width="1.4"/>
<line x1="461.35" y1="473.38" x2="466.41" y2="473.38" stroke="#333" stroke-width="0.9"/>
<line x1="466.41" y1="474.90" x2="471.47" y2="474.90" stroke="#2a2a2a" stroke-width="1.4"/>
<line x1="466.41" y1="465.37" x2="471.47" y2="465.37" stroke="#333" stroke-width="0.9"/>
<line x1="471.48" y1="474.90" x2="476.54" y2="474.90" stroke="#2a2a2a" stroke-width="1.4"/>
<line x1="471.48" y1="463.41" x2="476.54" y2="463.41" stroke="#333" stroke-width="0.9"/>
<rect x="476.54" y="474.30" width="5.07" height="0.70" fill="#4a4a4a"/>
<line x1="481.61" y1="474.90" x2="486.67" y2="474.90" stroke="#2a2a2a" stroke-width="1.4"/>
<line x1="481.61" y1="462.40" x2="486.67" y2="462.40" stroke="#333" stroke-width="0.9"/>
<line x1="486.67" y1="474.90" x2="491.74" y2="474.90" stroke="#2a2a2a" stroke-width="1.4"/>
<line x1="486.67" y1="461.64" x2="491.74" y2="461.64" stroke="#333" stroke-width="0.9"/>
<line x1="491.74" y1="474.90" x2="496.80" y2="474.90" stroke="#2a2a2a" stroke-width="1.4"/>
<line x1="491.74" y1="474.14" x2="496.80" y2="474.14" stroke="#333" stroke-width="0.9"/>
<line x1="496.80" y1="474.90" x2="501.87" y2="474.90" stroke="#2a2a2a" stroke-width="1.4"/>
<line x1="496.80" y1="437.86" x2="501.87" y2="437.86" stroke="#333" stroke-width="0.9"/>
<line x1="501.87" y1="474.90" x2="506.93" y2="474.90" stroke="#2a2a2a" stroke-width="1.4"/>
<line x1="501.87" y1="465.87" x2="506.93" y2="465.87" stroke="#333" stroke-width="0.9"/>
<line x1="506.93" y1="474.90" x2="512.00" y2="474.90" stroke="#2a2a2a" stroke-width="1.4"/>
<line x1="506.93" y1="469.15" x2="512.00" y2="469.15" stroke="#333" stroke-width="0.9"/>
<line x1="512.00" y1="474.90" x2="517.06" y2="474.90" stroke="#2a2a2a" stroke-width="1.4"/>
<line x1="512.00" y1="469.15" x2="517.06" y2="469.15" stroke="#333" stroke-width="0.9"/>
<line x1="294.55" y1="458.09" x2="294.55" y2="475.00" stroke="#333" stroke-width="0.9"/>
<line x1="299.62" y1="445.97" x2="299.62" y2="458.09" stroke="#333" stroke-width="0.9"/>
<line x1="299.26" y1="458.09" x2="299.26" y2="475.00" stroke="#333" stroke-width="0.9" stroke-opacity="0.8"/>
<line x1="304.68" y1="427.42" x2="304.68" y2="445.97" stroke="#333" stroke-width="0.9"/>
<line x1="304.33" y1="445.97" x2="304.33" y2="475.00" stroke="#333" stroke-width="0.9" stroke-opacity="0.8"/>
<line x1="309.04" y1="427.42" x2="309.04" y2="437.08" stroke="#333" stroke-width="0.9"/>
<line x1="309.39" y1="437.08" x2="309.39" y2="475.00" stroke="#333" stroke-width="0.9" stroke-opacity="0.8"/>
<line x1="314.11" y1="437.08" x2="314.11" y2="456.13" stroke="#333" stroke-width="0.9"/>
<line x1="314.46" y1="456.13" x2="314.46" y2="475.00" stroke="#333" stroke-width="0.9" stroke-opacity="0.8"/>
<line x1="319.88" y1="439.03" x2="319.88" y2="456.13" stroke="#333" stroke-width="0.9"/>
<line x1="319.52" y1="456.13" x2="319.52" y2="475.00" stroke="#333" stroke-width="0.9" stroke-opacity="0.8"/>
<line x1="324.24" y1="439.03" x2="324.24" y2="460.30" stroke="#333" stroke-width="0.9"/>
<line x1="324.59" y1="460.30" x2="324.59" y2="475.00" stroke="#333" stroke-width="0.9" stroke-opacity="0.8"/>
<line x1="330.00" y1="442.76" x2="330.00" y2="460.30" stroke="#333" stroke-width="0.9"/>
<line x1="329.65" y1="460.30" x2="329.65" y2="475.00" stroke="#333" stroke-width="0.9" stroke-opacity="0.8"/>
<line x1="334.37" y1="442.76" x2="334.37" y2="463.58" stroke="#333" stroke-width="0.9"/>
<line x1="334.72" y1="463.58" x2="334.72" y2="475.00" stroke="#333" stroke-width="0.9" stroke-opacity="0.8"/>
<line x1="340.13" y1="431.59" x2="340.13" y2="463.58" stroke="#333" stroke-width="0.9"/>
<line x1="339.78" y1="463.58" x2="339.78" y2="475.00" stroke="#333" stroke-width="0.9" stroke-opacity="0.8"/>
<line x1="344.50" y1="431.59" x2="344.50" y2="442.00" stroke="#333" stroke-width="0.9"/>
<line x1="344.85" y1="442.00" x2="344.85" y2="475.00" stroke="#333" stroke-width="0.9" stroke-opacity="0.8"/>
<line x1="349.56" y1="442.00" x2="349.56" y2="457.14" stroke="#333" stroke-width="0.9"/>
<line x1="349.91" y1="457.14" x2="349.91" y2="475.00" stroke="#333" stroke-width="0.9" stroke-opacity="0.8"/>
<line x1="355.33" y1="372.53" x2="355.33" y2="457.14" stroke="#333" stroke-width="0.9"/>
<line x1="354.98" y1="457.14" x2="354.98" y2="475.00" stroke="#333" stroke-width="0.9" stroke-opacity="0.8"/>
<line x1="359.69" y1="372.53" x2="359.69" y2="457.14" stroke="#333" stroke-width="0.9"/>
<line x1="360.04" y1="457.14" x2="360.04" y2="475.00" stroke="#333" stroke-width="0.9" stroke-opacity="0.8"/>
<line x1="365.46" y1="443.45" x2="365.46" y2="457.14" stroke="#333" stroke-width="0.9"/>
<line x1="365.11" y1="457.14" x2="365.11" y2="475.00" stroke="#333" stroke-width="0.9" stroke-opacity="0.8"/>
<line x1="369.82" y1="443.45" x2="369.82" y2="456.57" stroke="#333" stroke-width="0.9"/>
<line x1="370.18" y1="456.57" x2="370.18" y2="475.00" stroke="#333" stroke-width="0.9" stroke-opacity="0.8"/>
<line x1="375.59" y1="376.50" x2="375.59" y2="456.57" stroke="#333" stroke-width="0.9"/>
<line x1="375.24" y1="456.57" x2="375.24" y2="475.00" stroke="#333" stroke-width="0.9" stroke-opacity="0.8"/>
<line x1="380.66" y1="346.34" x2="380.66" y2="376.50" stroke="#333" stroke-width="0.9"/>
<line x1="380.31" y1="376.50" x2="380.31" y2="475.00" stroke="#333" stroke-width="0.9" stroke-opacity="0.8"/>
<line x1="385.02" y1="346.34" x2="385.02" y2="453.29" stroke="#333" stroke-width="0.9"/>
<line x1="385.37" y1="453.29" x2="385.37" y2="475.00" stroke="#333" stroke-width="0.9" stroke-opacity="0.8"/>
<line x1="390.79" y1="406.85" x2="390.79" y2="453.29" stroke="#333" stroke-width="0.9"/>
<line x1="390.44" y1="453.29" x2="390.44" y2="475.00" stroke="#333" stroke-width="0.9" stroke-opacity="0.8"/>
<line x1="395.15" y1="406.85" x2="395.15" y2="472.00" stroke="#333" stroke-width="0.9"/>
<line x1="395.50" y1="472.00" x2="395.50" y2="475.00" stroke="#333" stroke-width="0.9" stroke-opacity="0.8"/>
<line x1="400.92" y1="469.26" x2="400.92" y2="472.00" stroke="#333" stroke-width="0.9"/>
<line x1="400.56" y1="472.00" x2="400.56" y2="475.00" stroke="#333" stroke-width="0.9" stroke-opacity="0.8"/>
<line x1="405.28" y1="469.26" x2="405.28" y2="471.25" stroke="#333" stroke-width="0.9"/>
<line x1="405.63" y1="471.25" x2="405.63" y2="475.00" stroke="#333" stroke-width="0.9" stroke-opacity="0.8"/>
<line x1="411.05" y1="467.49" x2="411.05" y2="471.25" stroke="#333" stroke-width="0.9"/>
<line x1="410.69" y1="471.25" x2="410.69" y2="475.00" stroke="#333" stroke-width="0.9" stroke-opacity="0.8"/>
<line x1="416.11" y1="463.01" x2="416.11" y2="467.49" stroke="#333" stroke-width="0.9"/>
<line x1="415.76" y1="467.49" x2="415.76" y2="475.00" stroke="#333" stroke-width="0.9" stroke-opacity="0.8"/>
<line x1="420.47" y1="463.01" x2="420.47" y2="467.49" stroke="#333" stroke-width="0.9"/>
<line x1="420.82" y1="467.49" x2="420.82" y2="475.00" stroke="#333" stroke-width="0.9" stroke-opacity="0.8"/>
<line x1="425.54" y1="467.49" x2="425.54" y2="468.25" stroke="#333" stroke-width="0.9"/>
<line x1="425.89" y1="468.25" x2="425.89" y2="475.00" stroke="#333" stroke-width="0.9" stroke-opacity="0.8"/>
<line x1="430.61" y1="468.25" x2="430.61" y2="469.26" stroke="#333" stroke-width="0.9"/>
<line x1="430.96" y1="469.26" x2="430.96" y2="475.00" stroke="#333" stroke-width="0.9" stroke-opacity="0.8"/>
<line x1="436.37" y1="465.72" x2="436.37" y2="469.26" stroke="#333" stroke-width="0.9"/>
<line x1="436.02" y1="469.26" x2="436.02" y2="475.00" stroke="#333" stroke-width="0.9" stroke-opacity="0.8"/>
<line x1="441.44" y1="456.95" x2="441.44" y2="465.72" stroke="#333" stroke-width="0.9"/>
<line x1="441.09" y1="465.72" x2="441.09" y2="475.00" stroke="#333" stroke-width="0.9" stroke-opacity="0.8"/>
<line x1="445.80" y1="456.95" x2="445.80" y2="460.49" stroke="#333" stroke-width="0.9"/>
<line x1="446.15" y1="460.49" x2="446.15" y2="475.00" stroke="#333" stroke-width="0.9" stroke-opacity="0.8"/>
<line x1="451.57" y1="454.24" x2="451.57" y2="460.49" stroke="#333" stroke-width="0.9"/>
<line x1="451.22" y1="460.49" x2="451.22" y2="475.00" stroke="#333" stroke-width="0.9" stroke-opacity="0.8"/>
<line x1="455.93" y1="454.24" x2="455.93" y2="461.24" stroke="#333" stroke-width="0.9"/>
<line x1="456.28" y1="461.24" x2="456.28" y2="475.00" stroke="#333" stroke-width="0.9" stroke-opacity="0.8"/>
<line x1="461.00" y1="461.24" x2="461.00" y2="472.98" stroke="#333" stroke-width="0.9"/>
<line x1="461.35" y1="472.98" x2="461.35" y2="475.00" stroke="#333" stroke-width="0.9" stroke-opacity="0.8"/>
<line x1="466.76" y1="464.97" x2="466.76" y2="472.98" stroke="#333" stroke-width="0.9"/>
<line x1="466.41" y1="472.98" x2="466.41" y2="475.00" stroke="#333" stroke-width="0.9" stroke-opacity="0.8"/>
<line x1="471.83" y1="463.01" x2="471.83" y2="464.97" stroke="#333" stroke-width="0.9"/>
<line x1="471.48" y1="464.97" x2="471.48" y2="475.00" stroke="#333" stroke-width="0.9" stroke-opacity="0.8"/>
<line x1="476.19" y1="463.01" x2="476.19" y2="475.00" stroke="#333" stroke-width="0.9"/>
<line x1="481.96" y1="462.00" x2="481.96" y2="475.00" stroke="#333" stroke-width="0.9"/>
<line x1="487.02" y1="461.24" x2="487.02" y2="462.00" stroke="#333" stroke-width="0.9"/>
<line x1="486.67" y1="462.00" x2="486.67" y2="475.00" stroke="#333" stroke-width="0.9" stroke-opacity="0.8"/>
<line x1="491.38" y1="461.24" x2="491.38" y2="473.74" stroke="#333" stroke-width="0.9"/>
<line x1="491.74" y1="473.74" x2="491.74" y2="475.00" stroke="#333" stroke-width="0.9" stroke-opacity="0.8"/>
<line x1="497.15" y1="437.46" x2="497.15" y2="473.74" stroke="#333" stroke-width="0.9"/>
<line x1="496.80" y1="473.74" x2="496.80" y2="475.00" stroke="#333" stroke-width="0.9" stroke-opacity="0.8"/>
<line x1="501.51" y1="437.46" x2="501.51" y2="465.47" stroke="#333" stroke-width="0.9"/>
<line x1="501.87" y1="465.47" x2="501.87" y2="475.00" stroke="#333" stroke-width="0.9" stroke-opacity="0.8"/>
<line x1="506.58" y1="465.47" x2="506.58" y2="468.75" stroke="#333" stroke-width="0.9"/>
<line x1="506.93" y1="468.75" x2="506.93" y2="475.00" stroke="#333" stroke-width="0.9" stroke-opacity="0.8"/>
<line x1="512.00" y1="468.75" x2="512.00" y2="475.00" stroke="#333" stroke-width="0.9" stroke-opacity="0.8"/>
<line x1="516.71" y1="468.75" x2="516.71" y2="475.00" stroke="#333" stroke-width="0.9"/>
<line x1="21.60" y1="37.50" x2="21.60" y2="165.10" stroke="#2a2a2a" stroke-width="1.25"/>
<line x1="21.30" y1="164.70" x2="246.80" y2="164.70" stroke="#383838" stroke-width="0.95"/>
<line x1="19.70" y1="164.70" x2="22.00" y2="164.70" stroke="#2a2a2a" stroke-width="0.9"/>
<text x="19.30" y="167.20" text-anchor="end" class="tk" style="font-size:7.5px;letter-spacing:0px">0</text>
<line x1="19.70" y1="150.60" x2="22.00" y2="150.60" stroke="#2a2a2a" stroke-width="0.9"/>
<text x="18.30" y="153.04" text-anchor="end" class="tk" style="font-size:7.5px;letter-spacing:0px">200</text>
<line x1="19.70" y1="136.50" x2="22.00" y2="136.50" stroke="#2a2a2a" stroke-width="0.9"/>
<text x="18.30" y="138.89" text-anchor="end" class="tk" style="font-size:7.5px;letter-spacing:0px">400</text>
<line x1="19.70" y1="122.40" x2="22.00" y2="122.40" stroke="#2a2a2a" stroke-width="0.9"/>
<text x="18.30" y="124.73" text-anchor="end" class="tk" style="font-size:7.5px;letter-spacing:0px">600</text>
<line x1="19.70" y1="108.30" x2="22.00" y2="108.30" stroke="#2a2a2a" stroke-width="0.9"/>
<text x="18.30" y="110.58" text-anchor="end" class="tk" style="font-size:7.5px;letter-spacing:0px">800</text>
<line x1="19.70" y1="94.20" x2="22.00" y2="94.20" stroke="#2a2a2a" stroke-width="0.9"/>
<text x="18.30" y="96.42" text-anchor="end" class="tk" style="font-size:7.5px;letter-spacing:0px">1000</text>
<line x1="19.70" y1="80.10" x2="22.00" y2="80.10" stroke="#2a2a2a" stroke-width="0.9"/>
<text x="18.30" y="82.27" text-anchor="end" class="tk" style="font-size:7.5px;letter-spacing:0px">1200</text>
<line x1="19.70" y1="66.00" x2="22.00" y2="66.00" stroke="#2a2a2a" stroke-width="0.9"/>
<text x="18.30" y="68.11" text-anchor="end" class="tk" style="font-size:7.5px;letter-spacing:0px">1400</text>
<line x1="19.70" y1="51.90" x2="22.00" y2="51.90" stroke="#2a2a2a" stroke-width="0.9"/>
<text x="18.30" y="53.96" text-anchor="end" class="tk" style="font-size:7.5px;letter-spacing:0px">1600</text>
<line x1="19.70" y1="37.80" x2="22.00" y2="37.80" stroke="#2a2a2a" stroke-width="0.9"/>
<text x="18.30" y="39.80" text-anchor="end" class="tk" style="font-size:7.5px;letter-spacing:0px">1800</text>
<text x="27.90" y="27.30" class="ti" style="font-size:10.9px;stroke-width:0.8px" textLength="27.4" lengthAdjust="spacingAndGlyphs">FLT3</text>
<line x1="21.60" y1="191.50" x2="21.60" y2="320.90" stroke="#2a2a2a" stroke-width="1.25"/>
<line x1="21.30" y1="320.50" x2="246.80" y2="320.50" stroke="#383838" stroke-width="0.95"/>
<line x1="19.70" y1="320.50" x2="22.00" y2="320.50" stroke="#2a2a2a" stroke-width="0.9"/>
<text x="19.30" y="323.00" text-anchor="end" class="tk" style="font-size:7.5px;letter-spacing:0px">0</text>
<line x1="19.70" y1="307.63" x2="22.00" y2="307.63" stroke="#2a2a2a" stroke-width="0.9"/>
<text x="18.30" y="310.08" text-anchor="end" class="tk" style="font-size:7.5px;letter-spacing:0px">100</text>
<line x1="19.70" y1="294.76" x2="22.00" y2="294.76" stroke="#2a2a2a" stroke-width="0.9"/>
<text x="18.30" y="297.16" text-anchor="end" class="tk" style="font-size:7.5px;letter-spacing:0px">200</text>
<line x1="19.70" y1="281.89" x2="22.00" y2="281.89" stroke="#2a2a2a" stroke-width="0.9"/>
<text x="18.30" y="284.24" text-anchor="end" class="tk" style="font-size:7.5px;letter-spacing:0px">300</text>
<line x1="19.70" y1="269.02" x2="22.00" y2="269.02" stroke="#2a2a2a" stroke-width="0.9"/>
<text x="18.30" y="271.32" text-anchor="end" class="tk" style="font-size:7.5px;letter-spacing:0px">400</text>
<line x1="19.70" y1="256.15" x2="22.00" y2="256.15" stroke="#2a2a2a" stroke-width="0.9"/>
<text x="18.30" y="258.40" text-anchor="end" class="tk" style="font-size:7.5px;letter-spacing:0px">500</text>
<line x1="19.70" y1="243.28" x2="22.00" y2="243.28" stroke="#2a2a2a" stroke-width="0.9"/>
<text x="18.30" y="245.48" text-anchor="end" class="tk" style="font-size:7.5px;letter-spacing:0px">600</text>
<line x1="19.70" y1="230.41" x2="22.00" y2="230.41" stroke="#2a2a2a" stroke-width="0.9"/>
<text x="18.30" y="232.56" text-anchor="end" class="tk" style="font-size:7.5px;letter-spacing:0px">700</text>
<line x1="19.70" y1="217.54" x2="22.00" y2="217.54" stroke="#2a2a2a" stroke-width="0.9"/>
<text x="18.30" y="219.64" text-anchor="end" class="tk" style="font-size:7.5px;letter-spacing:0px">800</text>
<line x1="19.70" y1="204.67" x2="22.00" y2="204.67" stroke="#2a2a2a" stroke-width="0.9"/>
<text x="18.30" y="206.72" text-anchor="end" class="tk" style="font-size:7.5px;letter-spacing:0px">900</text>
<line x1="19.70" y1="191.80" x2="22.00" y2="191.80" stroke="#2a2a2a" stroke-width="0.9"/>
<text x="18.30" y="193.80" text-anchor="end" class="tk" style="font-size:7.5px;letter-spacing:0px">1000</text>
<text x="27.50" y="181.80" class="ti" style="font-size:10.6px;stroke-width:0.5px" textLength="50.4" lengthAdjust="spacingAndGlyphs">Cyclin A1</text>
<line x1="21.60" y1="348.80" x2="21.60" y2="476.50" stroke="#2a2a2a" stroke-width="1.25"/>
<line x1="21.30" y1="476.10" x2="246.80" y2="476.10" stroke="#383838" stroke-width="0.95"/>
<line x1="19.70" y1="476.10" x2="22.00" y2="476.10" stroke="#2a2a2a" stroke-width="0.9"/>
<text x="19.30" y="478.60" text-anchor="end" class="tk" style="font-size:7.5px;letter-spacing:0px">0</text>
<line x1="19.70" y1="463.40" x2="22.00" y2="463.40" stroke="#2a2a2a" stroke-width="0.9"/>
<text x="18.30" y="465.85" text-anchor="end" class="tk" style="font-size:7.5px;letter-spacing:0px">200</text>
<line x1="19.70" y1="450.70" x2="22.00" y2="450.70" stroke="#2a2a2a" stroke-width="0.9"/>
<text x="18.30" y="453.10" text-anchor="end" class="tk" style="font-size:7.5px;letter-spacing:0px">400</text>
<line x1="19.70" y1="438.00" x2="22.00" y2="438.00" stroke="#2a2a2a" stroke-width="0.9"/>
<text x="18.30" y="440.35" text-anchor="end" class="tk" style="font-size:7.5px;letter-spacing:0px">600</text>
<line x1="19.70" y1="425.30" x2="22.00" y2="425.30" stroke="#2a2a2a" stroke-width="0.9"/>
<text x="18.30" y="427.60" text-anchor="end" class="tk" style="font-size:7.5px;letter-spacing:0px">800</text>
<line x1="19.70" y1="412.60" x2="22.00" y2="412.60" stroke="#2a2a2a" stroke-width="0.9"/>
<text x="18.30" y="414.85" text-anchor="end" class="tk" style="font-size:7.5px;letter-spacing:0px">1000</text>
<line x1="19.70" y1="399.90" x2="22.00" y2="399.90" stroke="#2a2a2a" stroke-width="0.9"/>
<text x="18.30" y="402.10" text-anchor="end" class="tk" style="font-size:7.5px;letter-spacing:0px">1200</text>
<line x1="19.70" y1="387.20" x2="22.00" y2="387.20" stroke="#2a2a2a" stroke-width="0.9"/>
<text x="18.30" y="389.35" text-anchor="end" class="tk" style="font-size:7.5px;letter-spacing:0px">1400</text>
<line x1="19.70" y1="374.50" x2="22.00" y2="374.50" stroke="#2a2a2a" stroke-width="0.9"/>
<text x="18.30" y="376.60" text-anchor="end" class="tk" style="font-size:7.5px;letter-spacing:0px">1600</text>
<line x1="19.70" y1="361.80" x2="22.00" y2="361.80" stroke="#2a2a2a" stroke-width="0.9"/>
<text x="18.30" y="363.85" text-anchor="end" class="tk" style="font-size:7.5px;letter-spacing:0px">1800</text>
<line x1="19.70" y1="349.10" x2="22.00" y2="349.10" stroke="#2a2a2a" stroke-width="0.9"/>
<text x="18.30" y="351.10" text-anchor="end" class="tk" style="font-size:7.5px;letter-spacing:0px">2000</text>
<text x="29.20" y="337.30" class="ti" style="font-size:10.6px;stroke-width:0.5px" textLength="51.2" lengthAdjust="spacingAndGlyphs">Serpin B1</text>
<line x1="293.70" y1="37.30" x2="293.70" y2="163.90" stroke="#2a2a2a" stroke-width="1.25"/>
<line x1="293.00" y1="163.50" x2="518.60" y2="163.50" stroke="#383838" stroke-width="0.95"/>
<line x1="291.40" y1="163.50" x2="293.70" y2="163.50" stroke="#2a2a2a" stroke-width="0.9"/>
<text x="291.00" y="165.60" text-anchor="end" class="tk" style="font-size:7.9px;letter-spacing:-0.12px">0</text>
<line x1="291.40" y1="138.32" x2="293.70" y2="138.32" stroke="#2a2a2a" stroke-width="0.9"/>
<text x="290.00" y="140.42" text-anchor="end" class="tk" style="font-size:7.9px;letter-spacing:-0.12px">5000</text>
<line x1="291.40" y1="113.14" x2="293.70" y2="113.14" stroke="#2a2a2a" stroke-width="0.9"/>
<text x="290.00" y="115.24" text-anchor="end" class="tk" style="font-size:7.9px;letter-spacing:-0.12px">10000</text>
<line x1="291.40" y1="87.96" x2="293.70" y2="87.96" stroke="#2a2a2a" stroke-width="0.9"/>
<text x="290.00" y="90.06" text-anchor="end" class="tk" style="font-size:7.9px;letter-spacing:-0.12px">15000</text>
<line x1="291.40" y1="62.78" x2="293.70" y2="62.78" stroke="#2a2a2a" stroke-width="0.9"/>
<text x="290.00" y="64.88" text-anchor="end" class="tk" style="font-size:7.9px;letter-spacing:-0.12px">20000</text>
<line x1="291.40" y1="37.60" x2="293.70" y2="37.60" stroke="#2a2a2a" stroke-width="0.9"/>
<text x="290.00" y="39.70" text-anchor="end" class="tk" style="font-size:7.9px;letter-spacing:-0.12px">25000</text>
<text x="301.10" y="26.40" class="ti" style="font-size:10.9px;stroke-width:0.8px" textLength="27.2" lengthAdjust="spacingAndGlyphs">FLT3</text>
<line x1="293.90" y1="190.90" x2="293.90" y2="319.40" stroke="#2a2a2a" stroke-width="1.25"/>
<line x1="293.20" y1="319.00" x2="518.60" y2="319.00" stroke="#383838" stroke-width="0.95"/>
<line x1="291.60" y1="319.00" x2="293.90" y2="319.00" stroke="#2a2a2a" stroke-width="0.9"/>
<text x="291.00" y="321.10" text-anchor="end" class="tk" style="font-size:7.9px;letter-spacing:-0.12px">0</text>
<line x1="291.60" y1="304.80" x2="293.90" y2="304.80" stroke="#2a2a2a" stroke-width="0.9"/>
<text x="290.00" y="306.90" text-anchor="end" class="tk" style="font-size:7.9px;letter-spacing:-0.12px">2000</text>
<line x1="291.60" y1="290.60" x2="293.90" y2="290.60" stroke="#2a2a2a" stroke-width="0.9"/>
<text x="290.00" y="292.70" text-anchor="end" class="tk" style="font-size:7.9px;letter-spacing:-0.12px">4000</text>
<line x1="291.60" y1="276.40" x2="293.90" y2="276.40" stroke="#2a2a2a" stroke-width="0.9"/>
<text x="290.00" y="278.50" text-anchor="end" class="tk" style="font-size:7.9px;letter-spacing:-0.12px">6000</text>
<line x1="291.60" y1="262.20" x2="293.90" y2="262.20" stroke="#2a2a2a" stroke-width="0.9"/>
<text x="290.00" y="264.30" text-anchor="end" class="tk" style="font-size:7.9px;letter-spacing:-0.12px">8000</text>
<line x1="291.60" y1="248.00" x2="293.90" y2="248.00" stroke="#2a2a2a" stroke-width="0.9"/>
<text x="290.00" y="250.10" text-anchor="end" class="tk" style="font-size:7.9px;letter-spacing:-0.12px">10000</text>
<line x1="291.60" y1="233.80" x2="293.90" y2="233.80" stroke="#2a2a2a" stroke-width="0.9"/>
<text x="290.00" y="235.90" text-anchor="end" class="tk" style="font-size:7.9px;letter-spacing:-0.12px">12000</text>
<line x1="291.60" y1="219.60" x2="293.90" y2="219.60" stroke="#2a2a2a" stroke-width="0.9"/>
<text x="290.00" y="221.70" text-anchor="end" class="tk" style="font-size:7.9px;letter-spacing:-0.12px">14000</text>
<line x1="291.60" y1="205.40" x2="293.90" y2="205.40" stroke="#2a2a2a" stroke-width="0.9"/>
<text x="290.00" y="207.50" text-anchor="end" class="tk" style="font-size:7.9px;letter-spacing:-0.12px">16000</text>
<line x1="291.60" y1="191.20" x2="293.90" y2="191.20" stroke="#2a2a2a" stroke-width="0.9"/>
<text x="290.00" y="193.30" text-anchor="end" class="tk" style="font-size:7.9px;letter-spacing:-0.12px">18000</text>
<text x="300.20" y="180.80" class="ti" style="font-size:10.6px;stroke-width:0.5px" textLength="51.0" lengthAdjust="spacingAndGlyphs">Cyclin A1</text>
<line x1="294.20" y1="348.50" x2="294.20" y2="475.40" stroke="#2a2a2a" stroke-width="1.25"/>
<line x1="293.50" y1="475.00" x2="518.60" y2="475.00" stroke="#383838" stroke-width="0.95"/>
<line x1="291.90" y1="475.00" x2="294.20" y2="475.00" stroke="#2a2a2a" stroke-width="0.9"/>
<text x="291.00" y="477.10" text-anchor="end" class="tk" style="font-size:7.9px;letter-spacing:-0.12px">0</text>
<line x1="291.90" y1="462.38" x2="294.20" y2="462.38" stroke="#2a2a2a" stroke-width="0.9"/>
<text x="290.00" y="464.48" text-anchor="end" class="tk" style="font-size:7.9px;letter-spacing:-0.12px">2000</text>
<line x1="291.90" y1="449.76" x2="294.20" y2="449.76" stroke="#2a2a2a" stroke-width="0.9"/>
<text x="290.00" y="451.86" text-anchor="end" class="tk" style="font-size:7.9px;letter-spacing:-0.12px">4000</text>
<line x1="291.90" y1="437.14" x2="294.20" y2="437.14" stroke="#2a2a2a" stroke-width="0.9"/>
<text x="290.00" y="439.24" text-anchor="end" class="tk" style="font-size:7.9px;letter-spacing:-0.12px">6000</text>
<line x1="291.90" y1="424.52" x2="294.20" y2="424.52" stroke="#2a2a2a" stroke-width="0.9"/>
<text x="290.00" y="426.62" text-anchor="end" class="tk" style="font-size:7.9px;letter-spacing:-0.12px">8000</text>
<line x1="291.90" y1="411.90" x2="294.20" y2="411.90" stroke="#2a2a2a" stroke-width="0.9"/>
<text x="290.00" y="414.00" text-anchor="end" class="tk" style="font-size:7.9px;letter-spacing:-0.12px">10000</text>
<line x1="291.90" y1="399.28" x2="294.20" y2="399.28" stroke="#2a2a2a" stroke-width="0.9"/>
<text x="290.00" y="401.38" text-anchor="end" class="tk" style="font-size:7.9px;letter-spacing:-0.12px">12000</text>
<line x1="291.90" y1="386.66" x2="294.20" y2="386.66" stroke="#2a2a2a" stroke-width="0.9"/>
<text x="290.00" y="388.76" text-anchor="end" class="tk" style="font-size:7.9px;letter-spacing:-0.12px">14000</text>
<line x1="291.90" y1="374.04" x2="294.20" y2="374.04" stroke="#2a2a2a" stroke-width="0.9"/>
<text x="290.00" y="376.14" text-anchor="end" class="tk" style="font-size:7.9px;letter-spacing:-0.12px">16000</text>
<line x1="291.90" y1="361.42" x2="294.20" y2="361.42" stroke="#2a2a2a" stroke-width="0.9"/>
<text x="290.00" y="363.52" text-anchor="end" class="tk" style="font-size:7.9px;letter-spacing:-0.12px">18000</text>
<line x1="291.90" y1="348.80" x2="294.20" y2="348.80" stroke="#2a2a2a" stroke-width="0.9"/>
<text x="290.00" y="350.90" text-anchor="end" class="tk" style="font-size:7.9px;letter-spacing:-0.12px">20000</text>
<text x="302.10" y="336.60" class="ti" style="font-size:10.6px;stroke-width:0.5px" textLength="51.2" lengthAdjust="spacingAndGlyphs">Serpin B1</text>
<line x1="227.45" y1="27.8" x2="227.45" y2="172.1" stroke="#161616" stroke-width="1.35"/>
<line x1="227.45" y1="182.9" x2="227.45" y2="327.9" stroke="#161616" stroke-width="1.35"/>
<line x1="227.45" y1="338.9" x2="227.45" y2="483.3" stroke="#161616" stroke-width="1.35"/>
<line x1="395.45" y1="27.3" x2="395.45" y2="171.6" stroke="#161616" stroke-width="1.05"/>
<line x1="395.45" y1="182.7" x2="395.45" y2="327.4" stroke="#161616" stroke-width="1.05"/>
<line x1="395.45" y1="338.5" x2="395.45" y2="483.0" stroke="#161616" stroke-width="1.05"/>
<path d="M22.00 478.40 Q22.50 482.00 26.00 482.00 L118.00 482.00 Q122.55 482.00 125.00 486.00 Q127.45 482.00 132.00 482.00 L223.00 482.00 Q226.50 482.00 227.00 478.40" fill="none" stroke="#444" stroke-width="0.85" stroke-dasharray="13 0.5"/>
<path d="M228.30 478.00 Q228.80 482.00 230.80 482.00 L233.40 482.00 Q234.70 482.00 235.40 485.20 Q236.10 482.00 237.40 482.00 L244.00 482.00 Q246.00 482.00 246.50 478.00" fill="none" stroke="#444" stroke-width="0.85" stroke-dasharray="13 0.5"/>
<path d="M293.80 477.70 Q294.30 481.40 297.80 481.40 L338.50 481.40 Q343.05 481.40 345.50 485.30 Q347.95 481.40 352.50 481.40 L391.00 481.40 Q394.50 481.40 395.00 477.70" fill="none" stroke="#444" stroke-width="0.85" stroke-dasharray="13 0.5"/>
<path d="M396.20 477.70 Q396.70 481.40 400.20 481.40 L449.70 481.40 Q454.25 481.40 456.70 485.30 Q459.15 481.40 463.70 481.40 L514.00 481.40 Q517.50 481.40 518.00 477.70" fill="none" stroke="#444" stroke-width="0.85" stroke-dasharray="13 0.5"/>
<text x="107.6" y="502.6" class="gl" style="font-size:13.4px">T-ALL</text>
<text x="207.5" y="502.2" class="gl" style="font-size:13.5px"><tspan class="bi">MLL/ENL</tspan></text>
<text x="216.9" y="518.5" class="gl" style="font-size:13.6px">T-ALL</text>
<text x="312.0" y="502.3" class="gl"><tspan class="bi">MLL</tspan><tspan dx="0.8" style="font-size:13.4px"> B-ALL</tspan></text>
<text x="438.6" y="502.3" class="gl">B-ALL</text>
<text x="112.8" y="13.4" class="ct">T-ALL</text>
<text x="382.7" y="13.5" class="ct2">B-ALL</text>
</svg>
</body></html>
